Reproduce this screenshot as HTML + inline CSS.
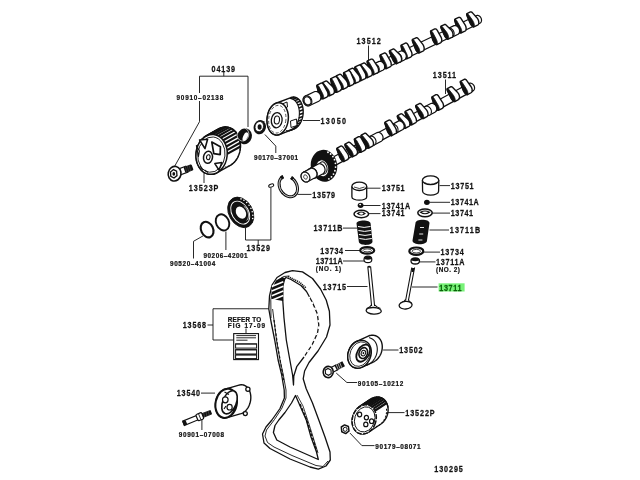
<!DOCTYPE html>
<html><head><meta charset="utf-8"><style>
html,body{margin:0;padding:0;background:#fff;width:640px;height:480px;overflow:hidden}
svg{position:absolute;left:0;top:0}
text{font-family:"Liberation Sans",sans-serif;font-weight:bold;fill:#111;stroke:#111;stroke-width:0.25px}
</style></head><body>
<svg width="640" height="480" viewBox="0 0 640 480">
<rect x="438.6" y="283.3" width="26" height="8.2" fill="#78f278"/>
<path d="M368.50,45.50 L368.50,66.00" fill="none" stroke="#111" stroke-width="0.9"/>
<path d="M445.50,79.50 L445.50,94.00" fill="none" stroke="#111" stroke-width="0.9"/>
<path d="M223.80,71.00 L223.80,76.20" fill="none" stroke="#111" stroke-width="0.9"/>
<path d="M199.50,76.20 L248.00,76.20" fill="none" stroke="#111" stroke-width="0.9"/>
<path d="M199.50,76.20 L199.50,93.00" fill="none" stroke="#111" stroke-width="0.9"/>
<path d="M199.50,101.00 L199.50,121.70 L174.50,166.50" fill="none" stroke="#111" stroke-width="0.9"/>
<path d="M248.00,76.20 L248.00,127.00" fill="none" stroke="#111" stroke-width="0.9"/>
<path d="M303.00,120.50 L320.00,120.50" fill="none" stroke="#111" stroke-width="0.9"/>
<path d="M264.90,134.50 L275.80,146.10 L275.80,153.00" fill="none" stroke="#111" stroke-width="0.9"/>
<path d="M204.00,169.00 L204.00,183.00" fill="none" stroke="#111" stroke-width="0.9"/>
<path d="M297.50,194.40 L311.50,194.40" fill="none" stroke="#111" stroke-width="0.9"/>
<path d="M245.50,228.00 L245.50,240.00 L270.90,240.00 L270.90,188.00" fill="none" stroke="#111" stroke-width="0.9"/>
<path d="M258.20,240.00 L258.20,245.00" fill="none" stroke="#111" stroke-width="0.9"/>
<path d="M225.90,231.50 L225.90,250.00" fill="none" stroke="#111" stroke-width="0.9"/>
<path d="M203.40,235.70 L193.50,241.30 L193.50,258.50" fill="none" stroke="#111" stroke-width="0.9"/>
<path d="M207.50,325.00 L213.00,325.00" fill="none" stroke="#111" stroke-width="0.9"/>
<path d="M270.00,308.75 L213.00,308.75 L213.00,340.00 L233.75,340.00" fill="none" stroke="#111" stroke-width="0.9"/>
<path d="M246.00,328.50 L246.00,333.25" fill="none" stroke="#111" stroke-width="0.9"/>
<path d="M201.00,393.10 L215.00,393.10" fill="none" stroke="#111" stroke-width="0.9"/>
<path d="M201.90,418.75 L201.90,430.00" fill="none" stroke="#111" stroke-width="0.9"/>
<path d="M347.00,286.50 L367.50,286.50" fill="none" stroke="#111" stroke-width="0.9"/>
<path d="M343.00,261.00 L364.00,261.00" fill="none" stroke="#111" stroke-width="0.9"/>
<path d="M345.00,250.50 L360.00,250.50" fill="none" stroke="#111" stroke-width="0.9"/>
<path d="M343.00,228.10 L357.00,228.10" fill="none" stroke="#111" stroke-width="0.9"/>
<path d="M367.00,188.20 L380.50,188.20" fill="none" stroke="#111" stroke-width="0.9"/>
<path d="M363.00,205.50 L380.50,205.50" fill="none" stroke="#111" stroke-width="0.9"/>
<path d="M368.00,213.60 L380.50,213.60" fill="none" stroke="#111" stroke-width="0.9"/>
<path d="M439.50,185.60 L450.00,185.60" fill="none" stroke="#111" stroke-width="0.9"/>
<path d="M429.50,202.30 L450.00,202.30" fill="none" stroke="#111" stroke-width="0.9"/>
<path d="M432.00,213.10 L450.00,213.10" fill="none" stroke="#111" stroke-width="0.9"/>
<path d="M429.50,230.00 L449.00,230.00" fill="none" stroke="#111" stroke-width="0.9"/>
<path d="M423.50,252.10 L440.00,252.10" fill="none" stroke="#111" stroke-width="0.9"/>
<path d="M419.50,261.90 L435.50,261.90" fill="none" stroke="#111" stroke-width="0.9"/>
<path d="M411.90,287.00 L437.50,287.00" fill="none" stroke="#111" stroke-width="0.9"/>
<path d="M383.10,350.00 L398.50,350.00" fill="none" stroke="#111" stroke-width="0.9"/>
<path d="M336.25,373.10 L346.90,382.50 L357.00,382.50" fill="none" stroke="#111" stroke-width="0.9"/>
<path d="M388.00,412.60 L404.50,412.60" fill="none" stroke="#111" stroke-width="0.9"/>
<path d="M350.00,433.10 L361.90,445.60 L374.50,445.60" fill="none" stroke="#111" stroke-width="0.9"/>
<path d="M303.98,100.37 L303.98,99.74 L304.08,99.14 L304.25,98.58 L304.51,98.08 L304.84,97.64 L305.24,97.28 L305.69,97.01 L476.19,15.71 L476.69,15.53 L477.22,15.45 L477.77,15.47 L478.32,15.58 L478.87,15.80 L479.39,16.10 L479.88,16.49 L480.33,16.95 L480.71,17.48 L481.03,18.05 L481.28,18.66 L481.44,19.30 L481.52,19.93 L481.52,20.56 L481.42,21.16 L481.25,21.72 L480.99,22.22 L480.66,22.66 L480.26,23.02 L479.81,23.29 L309.31,104.59 L308.81,104.77 L308.28,104.85 L307.73,104.83 L307.18,104.72 L306.63,104.50 L306.11,104.20 L305.62,103.81 L305.17,103.35 L304.79,102.82 L304.47,102.25 L304.22,101.64 L304.06,101.00 Z" fill="#fff" stroke="#111" stroke-width="1.2"/>
<path d="M466.72,14.35 L466.73,14.12 L466.76,13.92 L466.83,13.76 L466.91,13.64 L467.02,13.56 L470.35,11.97 L470.56,11.90 L470.79,11.87 L471.02,11.89 L471.27,11.95 L471.52,12.05 L471.78,12.20 L472.03,12.39 L472.27,12.61 L476.63,17.44 L477.03,17.88 L477.41,18.38 L477.75,18.91 L478.04,19.48 L478.30,20.07 L478.50,20.67 L478.65,21.27 L478.74,21.86 L478.78,22.43 L478.76,22.98 L478.68,23.48 L478.54,23.94 L478.35,24.35 L478.11,24.69 L477.83,24.96 L477.50,25.17 L473.89,26.89 L473.66,26.95 L473.40,26.93 L473.12,26.84 L472.81,26.68 L472.48,26.44 L472.15,26.13 L471.80,25.76 L471.46,25.34 L471.12,24.86 L470.79,24.34 L470.48,23.80 L470.19,23.23 L469.93,22.64 L467.17,16.19 L467.03,15.85 L466.92,15.52 L466.83,15.20 L466.77,14.89 L466.73,14.61 Z" fill="#fff" stroke="#111" stroke-width="1.4" stroke-linejoin="round"/>
<path d="M470.19,23.23 L470.48,23.80 L470.79,24.34 L471.12,24.86 L471.46,25.34 L471.80,25.76 L472.15,26.13 L472.48,26.44 L472.81,26.68 L473.12,26.84 L473.40,26.93 L473.66,26.95 L473.89,26.89 L474.08,26.75 L474.23,26.54 L474.34,26.26 L474.40,25.92 L474.42,25.51 L474.40,25.06 L474.33,24.56 L474.21,24.02 L474.06,23.46 L473.86,22.88 L473.63,22.29 L473.37,21.71 L473.08,21.14 L472.77,20.59 L472.44,20.07 L472.10,19.60 L468.41,14.45 L468.21,14.20 L468.02,13.99 L467.82,13.82 L467.64,13.68 L467.46,13.59 L467.30,13.53 L467.15,13.52 L467.02,13.56 L466.91,13.64 L466.83,13.76 L466.76,13.92 L466.73,14.12 L466.72,14.35 L466.73,14.61 L466.77,14.89 L466.83,15.20 L466.92,15.52 L467.03,15.85 L467.17,16.19 L469.93,22.64 Z" fill="#111" stroke="#111" stroke-width="0.8"/>
<path d="M454.67,20.00 L454.68,19.77 L454.72,19.57 L454.78,19.41 L454.87,19.29 L454.97,19.21 L458.72,17.42 L458.93,17.35 L459.16,17.32 L459.40,17.34 L459.64,17.40 L459.90,17.50 L460.15,17.65 L460.40,17.84 L460.64,18.06 L460.87,18.31 L461.08,18.60 L464.77,24.40 L465.11,24.94 L465.41,25.50 L465.66,26.09 L465.86,26.69 L466.01,27.29 L466.11,27.89 L466.14,28.46 L466.12,29.00 L466.04,29.51 L465.91,29.97 L465.72,30.37 L465.48,30.71 L465.19,30.99 L464.86,31.19 L461.25,32.91 L461.03,32.98 L460.77,32.96 L460.48,32.87 L460.17,32.70 L459.85,32.46 L459.51,32.16 L459.16,31.79 L458.82,31.36 L458.48,30.89 L458.15,30.37 L457.84,29.82 L457.55,29.25 L457.29,28.67 L457.06,28.08 L456.86,27.50 L454.88,21.17 L454.79,20.85 L454.72,20.54 L454.68,20.26 Z" fill="#fff" stroke="#111" stroke-width="1.4" stroke-linejoin="round"/>
<path d="M457.55,29.25 L457.84,29.82 L458.15,30.37 L458.48,30.89 L458.82,31.36 L459.16,31.79 L459.51,32.16 L459.85,32.46 L460.17,32.70 L460.48,32.87 L460.77,32.96 L461.03,32.98 L461.25,32.91 L461.44,32.78 L461.59,32.57 L461.70,32.29 L461.77,31.94 L461.79,31.54 L461.76,31.08 L461.69,30.58 L461.58,30.05 L461.42,29.48 L461.23,28.90 L461.00,28.32 L460.73,27.73 L460.45,27.16 L460.13,26.61 L456.75,20.66 L456.56,20.37 L456.36,20.10 L456.17,19.85 L455.97,19.64 L455.78,19.47 L455.59,19.33 L455.41,19.24 L455.25,19.18 L455.10,19.18 L454.97,19.21 L454.87,19.29 L454.78,19.41 L454.72,19.57 L454.68,19.77 L454.67,20.00 L454.68,20.26 L454.72,20.54 L454.79,20.85 L454.88,21.17 L456.86,27.50 L457.06,28.08 L457.29,28.67 Z" fill="#111" stroke="#111" stroke-width="0.8"/>
<path d="M446.09,32.30 L446.10,31.59 L446.20,30.90 L446.41,30.26 L446.70,29.69 L447.08,29.19 L447.53,28.78 L448.05,28.46 L453.47,25.88 L454.03,25.68 L454.64,25.58 L455.27,25.60 L455.90,25.74 L456.52,25.98 L457.12,26.33 L457.68,26.77 L458.19,27.30 L458.63,27.90 L459.00,28.56 L459.28,29.26 L459.47,29.98 L459.56,30.71 L459.55,31.42 L459.44,32.11 L459.24,32.75 L458.95,33.32 L458.57,33.82 L458.11,34.23 L457.60,34.55 L452.18,37.13 L451.61,37.33 L451.01,37.43 L450.38,37.41 L449.75,37.27 L449.13,37.03 L448.53,36.68 L447.97,36.24 L447.46,35.71 L447.02,35.11 L446.65,34.45 L446.37,33.75 L446.18,33.03 Z" fill="#fff" stroke="#111" stroke-width="1.2"/>
<path d="M453.58,31.14 L453.22,30.49 L452.77,29.89 L452.27,29.36 L451.71,28.91 L451.11,28.56 L450.48,28.32 L449.85,28.19 L449.22,28.16 L448.62,28.26 L448.05,28.46 L447.53,28.78 L447.08,29.19 L446.70,29.69 L446.41,30.26 L446.20,30.90 L446.10,31.59 L446.09,32.30 L446.18,33.03 L446.37,33.75 L446.65,34.45 L447.02,35.11 L447.46,35.71 L447.97,36.24 L448.53,36.68 L449.13,37.03 L449.75,37.27 L450.38,37.41 L451.01,37.43 L451.61,37.33 L452.18,37.13 L452.70,36.82 L453.15,36.41 L453.53,35.91 L453.83,35.33 L454.03,34.69 L454.13,34.01 L454.14,33.29 L454.05,32.56 L453.86,31.84 Z" fill="#fff" stroke="#111" stroke-width="1.1"/>
<path d="M440.85,26.84 L440.86,26.61 L440.89,26.41 L440.96,26.25 L441.04,26.13 L441.15,26.05 L444.35,24.53 L444.55,24.45 L444.78,24.43 L445.02,24.44 L445.27,24.50 L445.52,24.61 L445.77,24.76 L446.02,24.94 L446.26,25.16 L450.91,29.70 L451.31,30.15 L451.68,30.64 L452.02,31.18 L452.32,31.75 L452.57,32.33 L452.77,32.93 L452.92,33.53 L453.02,34.13 L453.05,34.70 L453.03,35.24 L452.95,35.75 L452.82,36.21 L452.63,36.61 L452.39,36.96 L452.10,37.23 L451.77,37.43 L448.16,39.16 L447.94,39.22 L447.68,39.20 L447.39,39.11 L447.08,38.94 L446.76,38.70 L446.42,38.40 L446.08,38.03 L445.73,37.60 L445.39,37.13 L445.06,36.61 L444.75,36.06 L444.46,35.49 L441.45,29.01 L441.30,28.68 L441.16,28.34 L441.05,28.01 L440.97,27.69 L440.90,27.38 L440.86,27.10 Z" fill="#fff" stroke="#111" stroke-width="1.4" stroke-linejoin="round"/>
<path d="M444.46,35.49 L444.75,36.06 L445.06,36.61 L445.39,37.13 L445.73,37.60 L446.08,38.03 L446.42,38.40 L446.76,38.70 L447.08,38.94 L447.39,39.11 L447.68,39.20 L447.94,39.22 L448.16,39.16 L448.35,39.02 L448.50,38.81 L448.61,38.53 L448.68,38.18 L448.70,37.78 L448.67,37.32 L448.60,36.82 L448.49,36.29 L448.33,35.72 L448.14,35.14 L447.91,34.56 L447.65,33.97 L447.36,33.40 L447.05,32.85 L446.72,32.34 L446.38,31.86 L442.54,26.94 L442.34,26.69 L442.15,26.48 L441.95,26.31 L441.77,26.17 L441.59,26.08 L441.43,26.02 L441.28,26.02 L441.15,26.05 L441.04,26.13 L440.96,26.25 L440.89,26.41 L440.86,26.61 L440.85,26.84 L440.86,27.10 L440.90,27.38 L440.97,27.69 L441.05,28.01 L441.16,28.34 L441.30,28.68 L441.45,29.01 Z" fill="#111" stroke="#111" stroke-width="0.8"/>
<path d="M430.54,31.59 L430.55,31.36 L430.59,31.17 L430.65,31.01 L430.74,30.89 L430.85,30.81 L434.74,28.95 L434.94,28.88 L435.17,28.85 L435.41,28.87 L435.66,28.93 L435.91,29.04 L436.16,29.18 L436.41,29.37 L436.65,29.59 L436.88,29.85 L437.09,30.13 L437.29,30.43 L440.74,36.56 L441.04,37.13 L441.29,37.71 L441.49,38.31 L441.64,38.91 L441.73,39.51 L441.77,40.08 L441.75,40.62 L441.67,41.13 L441.54,41.59 L441.35,41.99 L441.11,42.34 L440.82,42.61 L440.49,42.81 L436.88,44.54 L436.65,44.60 L436.40,44.58 L436.11,44.49 L435.80,44.32 L435.48,44.08 L435.14,43.78 L434.79,43.41 L434.45,42.98 L434.11,42.51 L433.78,41.99 L433.47,41.44 L433.18,40.87 L432.92,40.29 L432.69,39.70 L432.49,39.12 L432.34,38.56 L430.66,32.45 L430.60,32.14 L430.56,31.86 Z" fill="#fff" stroke="#111" stroke-width="1.4" stroke-linejoin="round"/>
<path d="M433.18,40.87 L433.47,41.44 L433.78,41.99 L434.11,42.51 L434.45,42.98 L434.79,43.41 L435.14,43.78 L435.48,44.08 L435.80,44.32 L436.11,44.49 L436.40,44.58 L436.65,44.60 L436.88,44.54 L437.07,44.40 L437.22,44.19 L437.33,43.91 L437.39,43.56 L437.41,43.16 L437.39,42.70 L437.32,42.20 L437.21,41.67 L437.05,41.10 L436.86,40.52 L436.63,39.94 L436.36,39.35 L436.07,38.78 L432.80,32.58 L432.62,32.26 L432.43,31.97 L432.24,31.70 L432.04,31.45 L431.84,31.24 L431.65,31.07 L431.46,30.93 L431.29,30.83 L431.12,30.78 L430.98,30.77 L430.85,30.81 L430.74,30.89 L430.65,31.01 L430.59,31.17 L430.55,31.36 L430.54,31.59 L430.56,31.86 L430.60,32.14 L430.66,32.45 L432.34,38.56 L432.49,39.12 L432.69,39.70 L432.92,40.29 Z" fill="#111" stroke="#111" stroke-width="0.8"/>
<path d="M412.28,40.21 L412.29,39.98 L412.33,39.78 L412.39,39.62 L412.47,39.50 L412.58,39.42 L416.05,37.77 L416.26,37.70 L416.49,37.67 L416.73,37.68 L416.97,37.75 L417.23,37.85 L417.48,38.00 L417.73,38.18 L417.97,38.41 L418.20,38.66 L422.43,43.92 L422.80,44.42 L423.14,44.95 L423.43,45.52 L423.69,46.11 L423.89,46.71 L424.04,47.31 L424.13,47.90 L424.17,48.47 L424.15,49.02 L424.07,49.52 L423.93,49.98 L423.74,50.39 L423.50,50.73 L423.22,51.00 L422.89,51.21 L419.28,52.93 L419.05,52.99 L418.80,52.97 L418.51,52.88 L418.20,52.72 L417.87,52.48 L417.54,52.17 L417.19,51.80 L416.85,51.37 L416.51,50.90 L416.18,50.38 L415.87,49.84 L415.58,49.26 L415.32,48.68 L415.09,48.09 L412.60,41.72 L412.49,41.39 L412.40,41.06 L412.33,40.76 L412.29,40.47 Z" fill="#fff" stroke="#111" stroke-width="1.4" stroke-linejoin="round"/>
<path d="M415.58,49.26 L415.87,49.84 L416.18,50.38 L416.51,50.90 L416.85,51.37 L417.19,51.80 L417.54,52.17 L417.87,52.48 L418.20,52.72 L418.51,52.88 L418.80,52.97 L419.05,52.99 L419.28,52.93 L419.47,52.79 L419.62,52.58 L419.73,52.30 L419.79,51.96 L419.81,51.55 L419.79,51.10 L419.72,50.60 L419.60,50.06 L419.45,49.50 L419.25,48.92 L419.02,48.33 L418.76,47.75 L418.47,47.18 L418.16,46.63 L417.83,46.11 L414.17,40.58 L413.97,40.31 L413.78,40.07 L413.58,39.86 L413.39,39.68 L413.20,39.55 L413.02,39.45 L412.86,39.40 L412.71,39.39 L412.58,39.42 L412.47,39.50 L412.39,39.62 L412.33,39.78 L412.29,39.98 L412.28,40.21 L412.29,40.47 L412.33,40.76 L412.40,41.06 L412.49,41.39 L412.60,41.72 L415.09,48.09 L415.32,48.68 Z" fill="#111" stroke="#111" stroke-width="0.8"/>
<path d="M401.02,45.83 L401.03,45.60 L401.07,45.40 L401.13,45.24 L401.22,45.12 L401.33,45.04 L405.35,43.12 L405.56,43.05 L405.78,43.02 L406.02,43.04 L406.27,43.10 L406.52,43.20 L406.78,43.35 L407.03,43.54 L407.27,43.76 L407.50,44.01 L407.71,44.30 L407.90,44.60 L408.07,44.92 L411.25,51.33 L411.50,51.92 L411.70,52.52 L411.85,53.12 L411.95,53.71 L411.98,54.28 L411.96,54.83 L411.88,55.33 L411.75,55.79 L411.56,56.20 L411.32,56.54 L411.03,56.81 L410.70,57.02 L407.09,58.74 L406.87,58.80 L406.61,58.78 L406.32,58.69 L406.01,58.53 L405.69,58.29 L405.35,57.98 L405.01,57.61 L404.66,57.19 L404.32,56.71 L403.99,56.19 L403.68,55.65 L403.39,55.08 L403.13,54.49 L402.90,53.90 L402.71,53.33 L402.55,52.76 L401.14,46.68 L401.08,46.37 L401.03,46.09 Z" fill="#fff" stroke="#111" stroke-width="1.4" stroke-linejoin="round"/>
<path d="M403.39,55.08 L403.68,55.65 L403.99,56.19 L404.32,56.71 L404.66,57.19 L405.01,57.61 L405.35,57.98 L405.69,58.29 L406.01,58.53 L406.32,58.69 L406.61,58.78 L406.87,58.80 L407.09,58.74 L407.28,58.60 L407.43,58.39 L407.54,58.11 L407.61,57.77 L407.63,57.36 L407.60,56.91 L407.53,56.41 L407.42,55.87 L407.26,55.31 L407.07,54.73 L406.84,54.14 L406.58,53.56 L403.44,47.13 L403.28,46.81 L403.10,46.49 L402.91,46.20 L402.72,45.93 L402.52,45.68 L402.32,45.47 L402.13,45.30 L401.94,45.16 L401.77,45.07 L401.60,45.01 L401.45,45.01 L401.33,45.04 L401.22,45.12 L401.13,45.24 L401.07,45.40 L401.03,45.60 L401.02,45.83 L401.03,46.09 L401.08,46.37 L401.14,46.68 L402.55,52.76 L402.71,53.33 L402.90,53.90 L403.13,54.49 Z" fill="#111" stroke="#111" stroke-width="0.8"/>
<path d="M393.74,57.27 L393.75,56.55 L393.85,55.86 L394.05,55.23 L394.35,54.65 L394.73,54.15 L395.18,53.74 L395.70,53.43 L400.21,51.27 L400.78,51.07 L401.38,50.98 L402.01,51.00 L402.64,51.13 L403.27,51.38 L403.87,51.72 L404.43,52.17 L404.93,52.70 L405.38,53.30 L405.74,53.95 L406.02,54.65 L406.21,55.37 L406.30,56.10 L406.30,56.82 L406.19,57.50 L405.99,58.14 L405.69,58.72 L405.31,59.22 L404.86,59.63 L404.34,59.94 L399.83,62.09 L399.26,62.30 L398.66,62.39 L398.03,62.37 L397.40,62.24 L396.77,61.99 L396.17,61.64 L395.61,61.20 L395.11,60.67 L394.66,60.07 L394.30,59.41 L394.02,58.71 L393.83,57.99 Z" fill="#fff" stroke="#111" stroke-width="1.2"/>
<path d="M401.23,56.11 L400.86,55.45 L400.42,54.85 L399.91,54.32 L399.35,53.88 L398.75,53.53 L398.13,53.28 L397.50,53.15 L396.87,53.13 L396.27,53.22 L395.70,53.43 L395.18,53.74 L394.73,54.15 L394.35,54.65 L394.05,55.23 L393.85,55.86 L393.75,56.55 L393.74,57.27 L393.83,57.99 L394.02,58.71 L394.30,59.41 L394.66,60.07 L395.11,60.67 L395.61,61.20 L396.17,61.64 L396.77,61.99 L397.40,62.24 L398.03,62.37 L398.66,62.39 L399.26,62.30 L399.83,62.09 L400.35,61.78 L400.80,61.37 L401.18,60.87 L401.47,60.29 L401.68,59.65 L401.78,58.97 L401.79,58.25 L401.70,57.53 L401.51,56.80 Z" fill="#fff" stroke="#111" stroke-width="1.1"/>
<path d="M389.40,51.37 L389.41,51.14 L389.44,50.94 L389.51,50.78 L389.59,50.66 L389.70,50.58 L392.90,49.06 L393.10,48.99 L393.33,48.96 L393.57,48.98 L393.82,49.04 L394.07,49.14 L394.32,49.29 L394.57,49.47 L394.81,49.70 L399.46,54.24 L399.86,54.68 L400.23,55.18 L400.57,55.71 L400.87,56.28 L401.12,56.87 L401.32,57.47 L401.47,58.07 L401.57,58.66 L401.60,59.23 L401.58,59.78 L401.50,60.28 L401.37,60.74 L401.18,61.15 L400.94,61.49 L400.65,61.76 L400.32,61.97 L396.71,63.69 L396.49,63.75 L396.23,63.73 L395.94,63.64 L395.63,63.48 L395.31,63.24 L394.97,62.93 L394.62,62.56 L394.28,62.13 L393.94,61.66 L393.61,61.14 L393.30,60.60 L393.01,60.03 L390.00,53.54 L389.85,53.21 L389.71,52.88 L389.60,52.54 L389.51,52.22 L389.45,51.92 L389.41,51.63 Z" fill="#fff" stroke="#111" stroke-width="1.4" stroke-linejoin="round"/>
<path d="M393.01,60.03 L393.30,60.60 L393.61,61.14 L393.94,61.66 L394.28,62.13 L394.62,62.56 L394.97,62.93 L395.31,63.24 L395.63,63.48 L395.94,63.64 L396.23,63.73 L396.49,63.75 L396.71,63.69 L396.90,63.55 L397.05,63.34 L397.16,63.06 L397.23,62.72 L397.25,62.31 L397.22,61.86 L397.15,61.36 L397.04,60.82 L396.88,60.26 L396.69,59.68 L396.46,59.09 L396.20,58.51 L395.91,57.94 L395.60,57.39 L395.27,56.87 L394.93,56.40 L391.09,51.47 L390.89,51.23 L390.70,51.02 L390.50,50.84 L390.32,50.70 L390.14,50.61 L389.98,50.56 L389.83,50.55 L389.70,50.58 L389.59,50.66 L389.51,50.78 L389.44,50.94 L389.41,51.14 L389.40,51.37 L389.41,51.63 L389.45,51.92 L389.51,52.22 L389.60,52.54 L389.71,52.88 L389.85,53.21 L390.00,53.54 Z" fill="#111" stroke="#111" stroke-width="0.8"/>
<path d="M379.99,55.70 L380.01,55.47 L380.04,55.27 L380.11,55.11 L380.19,54.99 L380.30,54.91 L384.19,53.06 L384.40,52.98 L384.62,52.96 L384.86,52.97 L385.11,53.03 L385.36,53.14 L385.61,53.29 L385.86,53.47 L386.10,53.69 L386.33,53.95 L386.55,54.23 L386.74,54.54 L390.19,60.66 L390.49,61.23 L390.74,61.82 L390.94,62.42 L391.09,63.02 L391.19,63.61 L391.22,64.18 L391.20,64.73 L391.12,65.23 L390.99,65.69 L390.80,66.10 L390.56,66.44 L390.27,66.71 L389.94,66.92 L386.33,68.64 L386.11,68.70 L385.85,68.68 L385.56,68.59 L385.25,68.43 L384.93,68.19 L384.59,67.88 L384.24,67.51 L383.90,67.08 L383.56,66.61 L383.23,66.09 L382.92,65.55 L382.63,64.97 L382.37,64.39 L382.14,63.80 L381.95,63.22 L381.79,62.66 L380.11,56.55 L380.05,56.24 L380.01,55.96 Z" fill="#fff" stroke="#111" stroke-width="1.4" stroke-linejoin="round"/>
<path d="M382.63,64.97 L382.92,65.55 L383.23,66.09 L383.56,66.61 L383.90,67.08 L384.24,67.51 L384.59,67.88 L384.93,68.19 L385.25,68.43 L385.56,68.59 L385.85,68.68 L386.11,68.70 L386.33,68.64 L386.52,68.50 L386.67,68.29 L386.78,68.01 L386.85,67.67 L386.87,67.26 L386.84,66.81 L386.77,66.31 L386.66,65.77 L386.50,65.21 L386.31,64.63 L386.08,64.04 L385.82,63.46 L385.53,62.89 L382.25,56.68 L382.07,56.37 L381.88,56.07 L381.69,55.80 L381.49,55.56 L381.30,55.34 L381.10,55.17 L380.92,55.03 L380.74,54.94 L380.58,54.88 L380.43,54.88 L380.30,54.91 L380.19,54.99 L380.11,55.11 L380.04,55.27 L380.01,55.47 L379.99,55.70 L380.01,55.96 L380.05,56.24 L380.11,56.55 L381.79,62.66 L381.95,63.22 L382.14,63.80 L382.37,64.39 Z" fill="#111" stroke="#111" stroke-width="0.8"/>
<path d="M371.17,68.03 L371.18,67.31 L371.29,66.62 L371.49,65.99 L371.78,65.41 L372.16,64.91 L372.61,64.50 L373.13,64.19 L378.55,61.60 L379.12,61.40 L379.72,61.31 L380.35,61.33 L380.98,61.46 L381.60,61.70 L382.20,62.05 L382.76,62.50 L383.27,63.03 L383.71,63.63 L384.08,64.28 L384.36,64.98 L384.55,65.70 L384.64,66.43 L384.63,67.15 L384.53,67.83 L384.32,68.47 L384.03,69.05 L383.65,69.55 L383.20,69.96 L382.68,70.27 L377.26,72.85 L376.70,73.06 L376.09,73.15 L375.46,73.13 L374.83,73.00 L374.21,72.75 L373.61,72.40 L373.05,71.96 L372.54,71.43 L372.10,70.83 L371.73,70.17 L371.45,69.47 L371.26,68.75 Z" fill="#fff" stroke="#111" stroke-width="1.2"/>
<path d="M378.66,66.87 L378.30,66.21 L377.86,65.61 L377.35,65.08 L376.79,64.64 L376.19,64.29 L375.56,64.04 L374.93,63.91 L374.30,63.89 L373.70,63.98 L373.13,64.19 L372.61,64.50 L372.16,64.91 L371.78,65.41 L371.49,65.99 L371.29,66.62 L371.18,67.31 L371.17,68.03 L371.26,68.75 L371.45,69.47 L371.73,70.17 L372.10,70.83 L372.54,71.43 L373.05,71.96 L373.61,72.40 L374.21,72.75 L374.83,73.00 L375.46,73.13 L376.09,73.15 L376.70,73.06 L377.26,72.85 L377.78,72.54 L378.23,72.13 L378.61,71.63 L378.91,71.05 L379.11,70.41 L379.22,69.73 L379.22,69.01 L379.13,68.29 L378.94,67.56 Z" fill="#fff" stroke="#111" stroke-width="1.1"/>
<path d="M367.11,61.75 L367.13,61.52 L367.16,61.32 L367.22,61.16 L367.31,61.04 L367.42,60.96 L371.17,59.17 L371.38,59.10 L371.60,59.07 L371.84,59.09 L372.09,59.15 L372.34,59.25 L372.59,59.40 L372.84,59.59 L373.08,59.81 L373.31,60.06 L373.53,60.35 L377.22,66.15 L377.55,66.69 L377.85,67.25 L378.10,67.84 L378.31,68.44 L378.46,69.04 L378.55,69.64 L378.59,70.21 L378.57,70.75 L378.49,71.26 L378.35,71.72 L378.16,72.12 L377.92,72.46 L377.63,72.74 L377.31,72.94 L373.70,74.66 L373.47,74.73 L373.21,74.71 L372.93,74.62 L372.62,74.45 L372.29,74.21 L371.95,73.91 L371.61,73.54 L371.26,73.11 L370.92,72.64 L370.59,72.12 L370.28,71.57 L369.99,71.00 L369.73,70.42 L369.50,69.83 L369.31,69.25 L367.32,62.92 L367.23,62.60 L367.17,62.29 L367.13,62.01 Z" fill="#fff" stroke="#111" stroke-width="1.4" stroke-linejoin="round"/>
<path d="M369.99,71.00 L370.28,71.57 L370.59,72.12 L370.92,72.64 L371.26,73.11 L371.61,73.54 L371.95,73.91 L372.29,74.21 L372.62,74.45 L372.93,74.62 L373.21,74.71 L373.47,74.73 L373.70,74.66 L373.89,74.53 L374.04,74.32 L374.14,74.04 L374.21,73.69 L374.23,73.29 L374.20,72.83 L374.13,72.33 L374.02,71.80 L373.87,71.23 L373.67,70.65 L373.44,70.07 L373.18,69.48 L372.89,68.91 L372.58,68.36 L369.19,62.41 L369.00,62.12 L368.81,61.85 L368.61,61.60 L368.42,61.39 L368.22,61.22 L368.04,61.08 L367.86,60.99 L367.70,60.93 L367.55,60.92 L367.42,60.96 L367.31,61.04 L367.22,61.16 L367.16,61.32 L367.13,61.52 L367.11,61.75 L367.13,62.01 L367.17,62.29 L367.23,62.60 L367.32,62.92 L369.31,69.25 L369.50,69.83 L369.73,70.42 Z" fill="#111" stroke="#111" stroke-width="0.8"/>
<path d="M360.06,65.36 L360.07,65.13 L360.11,64.93 L360.17,64.77 L360.26,64.65 L360.36,64.57 L363.56,63.05 L363.77,62.97 L363.99,62.95 L364.23,62.96 L364.48,63.02 L364.73,63.13 L364.99,63.28 L365.23,63.46 L365.48,63.69 L370.12,68.23 L370.52,68.67 L370.90,69.17 L371.23,69.70 L371.53,70.27 L371.79,70.86 L371.99,71.45 L372.14,72.06 L372.23,72.65 L372.27,73.22 L372.25,73.77 L372.17,74.27 L372.03,74.73 L371.84,75.13 L371.60,75.48 L371.32,75.75 L370.99,75.96 L367.38,77.68 L367.15,77.74 L366.89,77.72 L366.61,77.63 L366.30,77.46 L365.97,77.23 L365.63,76.92 L365.29,76.55 L364.94,76.12 L364.60,75.65 L364.28,75.13 L363.97,74.58 L363.68,74.01 L360.66,67.53 L360.51,67.20 L360.38,66.86 L360.27,66.53 L360.18,66.21 L360.11,65.90 L360.07,65.62 Z" fill="#fff" stroke="#111" stroke-width="1.4" stroke-linejoin="round"/>
<path d="M363.68,74.01 L363.97,74.58 L364.28,75.13 L364.60,75.65 L364.94,76.12 L365.29,76.55 L365.63,76.92 L365.97,77.23 L366.30,77.46 L366.61,77.63 L366.89,77.72 L367.15,77.74 L367.38,77.68 L367.57,77.54 L367.72,77.33 L367.83,77.05 L367.89,76.70 L367.91,76.30 L367.89,75.84 L367.82,75.34 L367.70,74.81 L367.55,74.25 L367.35,73.67 L367.12,73.08 L366.86,72.49 L366.57,71.92 L366.26,71.38 L365.93,70.86 L365.59,70.39 L361.76,65.46 L361.56,65.22 L361.36,65.00 L361.17,64.83 L360.98,64.69 L360.80,64.60 L360.64,64.55 L360.49,64.54 L360.36,64.57 L360.26,64.65 L360.17,64.77 L360.11,64.93 L360.07,65.13 L360.06,65.36 L360.07,65.62 L360.11,65.90 L360.18,66.21 L360.27,66.53 L360.38,66.86 L360.51,67.20 L360.66,67.53 Z" fill="#111" stroke="#111" stroke-width="0.8"/>
<path d="M354.72,67.75 L354.73,67.52 L354.77,67.32 L354.83,67.16 L354.92,67.04 L355.03,66.96 L358.91,65.11 L359.12,65.04 L359.35,65.01 L359.59,65.02 L359.83,65.09 L360.09,65.19 L360.34,65.34 L360.59,65.52 L360.83,65.75 L361.06,66.00 L361.27,66.28 L361.47,66.59 L364.92,72.71 L365.21,73.28 L365.47,73.87 L365.67,74.47 L365.82,75.07 L365.91,75.66 L365.95,76.23 L365.93,76.78 L365.85,77.28 L365.71,77.74 L365.52,78.15 L365.28,78.49 L365.00,78.77 L364.67,78.97 L361.06,80.69 L360.83,80.75 L360.58,80.74 L360.29,80.64 L359.98,80.48 L359.65,80.24 L359.32,79.93 L358.97,79.56 L358.63,79.14 L358.29,78.66 L357.96,78.14 L357.65,77.60 L357.36,77.03 L357.10,76.44 L356.87,75.86 L356.67,75.28 L356.52,74.71 L354.84,68.60 L354.78,68.30 L354.74,68.01 Z" fill="#fff" stroke="#111" stroke-width="1.4" stroke-linejoin="round"/>
<path d="M357.36,77.03 L357.65,77.60 L357.96,78.14 L358.29,78.66 L358.63,79.14 L358.97,79.56 L359.32,79.93 L359.65,80.24 L359.98,80.48 L360.29,80.64 L360.58,80.74 L360.83,80.75 L361.06,80.69 L361.25,80.55 L361.40,80.34 L361.51,80.06 L361.57,79.72 L361.59,79.31 L361.57,78.86 L361.50,78.36 L361.38,77.82 L361.23,77.26 L361.03,76.68 L360.80,76.09 L360.54,75.51 L360.25,74.94 L356.98,68.73 L356.80,68.42 L356.61,68.12 L356.42,67.85 L356.22,67.61 L356.02,67.40 L355.83,67.22 L355.64,67.08 L355.47,66.99 L355.30,66.94 L355.16,66.93 L355.03,66.96 L354.92,67.04 L354.83,67.16 L354.77,67.32 L354.73,67.52 L354.72,67.75 L354.74,68.01 L354.78,68.30 L354.84,68.60 L356.52,74.71 L356.67,75.28 L356.87,75.86 L357.10,76.44 Z" fill="#111" stroke="#111" stroke-width="0.8"/>
<path d="M348.19,70.77 L348.20,70.54 L348.24,70.34 L348.30,70.18 L348.39,70.06 L348.50,69.98 L351.97,68.33 L352.17,68.26 L352.40,68.23 L352.64,68.24 L352.89,68.31 L353.14,68.41 L353.39,68.56 L353.64,68.74 L353.88,68.97 L354.11,69.22 L358.34,74.48 L358.71,74.98 L359.05,75.51 L359.35,76.08 L359.60,76.67 L359.80,77.27 L359.95,77.87 L360.05,78.46 L360.08,79.03 L360.06,79.58 L359.98,80.08 L359.85,80.54 L359.66,80.94 L359.42,81.29 L359.13,81.56 L358.80,81.77 L355.19,83.49 L354.97,83.55 L354.71,83.53 L354.42,83.44 L354.11,83.27 L353.79,83.04 L353.45,82.73 L353.10,82.36 L352.76,81.93 L352.42,81.46 L352.09,80.94 L351.78,80.39 L351.49,79.82 L351.23,79.24 L351.00,78.65 L348.51,72.28 L348.40,71.94 L348.31,71.62 L348.25,71.32 L348.21,71.03 Z" fill="#fff" stroke="#111" stroke-width="1.4" stroke-linejoin="round"/>
<path d="M351.49,79.82 L351.78,80.39 L352.09,80.94 L352.42,81.46 L352.76,81.93 L353.10,82.36 L353.45,82.73 L353.79,83.04 L354.11,83.27 L354.42,83.44 L354.71,83.53 L354.97,83.55 L355.19,83.49 L355.38,83.35 L355.53,83.14 L355.64,82.86 L355.71,82.52 L355.73,82.11 L355.70,81.66 L355.63,81.15 L355.52,80.62 L355.36,80.06 L355.17,79.48 L354.94,78.89 L354.68,78.31 L354.39,77.73 L354.08,77.19 L353.75,76.67 L350.08,71.14 L349.89,70.87 L349.69,70.63 L349.49,70.42 L349.30,70.24 L349.11,70.10 L348.94,70.01 L348.77,69.96 L348.62,69.95 L348.50,69.98 L348.39,70.06 L348.30,70.18 L348.24,70.34 L348.20,70.54 L348.19,70.77 L348.21,71.03 L348.25,71.32 L348.31,71.62 L348.40,71.94 L348.51,72.28 L351.00,78.65 L351.23,79.24 Z" fill="#111" stroke="#111" stroke-width="0.8"/>
<path d="M343.54,73.45 L343.55,73.22 L343.58,73.02 L343.65,72.86 L343.73,72.74 L343.84,72.67 L348.00,70.68 L348.21,70.61 L348.43,70.58 L348.67,70.60 L348.92,70.66 L349.17,70.76 L349.42,70.91 L349.67,71.10 L349.91,71.32 L350.14,71.57 L350.36,71.86 L350.55,72.16 L350.72,72.49 L353.48,78.88 L353.73,79.46 L353.94,80.06 L354.09,80.66 L354.18,81.26 L354.22,81.83 L354.19,82.37 L354.12,82.88 L353.98,83.34 L353.79,83.74 L353.55,84.09 L353.26,84.36 L352.94,84.56 L349.32,86.29 L349.10,86.35 L348.84,86.33 L348.56,86.24 L348.25,86.07 L347.92,85.83 L347.58,85.53 L347.24,85.16 L346.89,84.73 L346.55,84.26 L346.22,83.74 L345.91,83.19 L345.62,82.62 L345.36,82.04 L345.13,81.45 L344.94,80.87 L344.78,80.31 L344.67,79.77 L343.59,74.00 L343.55,73.71 Z" fill="#fff" stroke="#111" stroke-width="1.4" stroke-linejoin="round"/>
<path d="M345.62,82.62 L345.91,83.19 L346.22,83.74 L346.55,84.26 L346.89,84.73 L347.24,85.16 L347.58,85.53 L347.92,85.83 L348.25,86.07 L348.56,86.24 L348.84,86.33 L349.10,86.35 L349.32,86.29 L349.51,86.15 L349.67,85.94 L349.77,85.66 L349.84,85.31 L349.86,84.91 L349.83,84.45 L349.76,83.95 L349.65,83.42 L349.49,82.85 L349.30,82.27 L349.07,81.69 L348.81,81.10 L345.96,74.76 L345.79,74.43 L345.61,74.12 L345.42,73.83 L345.23,73.55 L345.03,73.31 L344.84,73.10 L344.64,72.92 L344.46,72.79 L344.28,72.69 L344.12,72.64 L343.97,72.63 L343.84,72.67 L343.73,72.74 L343.65,72.86 L343.58,73.02 L343.55,73.22 L343.54,73.45 L343.55,73.71 L343.59,74.00 L344.67,79.77 L344.78,80.31 L344.94,80.87 L345.13,81.45 L345.36,82.04 Z" fill="#111" stroke="#111" stroke-width="0.8"/>
<path d="M335.83,76.76 L335.84,76.52 L335.88,76.33 L335.94,76.17 L336.03,76.05 L336.14,75.97 L339.47,74.38 L339.68,74.31 L339.90,74.28 L340.14,74.30 L340.39,74.36 L340.64,74.46 L340.90,74.61 L341.14,74.79 L341.39,75.02 L345.75,79.85 L346.15,80.29 L346.53,80.79 L346.86,81.32 L347.16,81.89 L347.41,82.48 L347.62,83.08 L347.77,83.68 L347.86,84.27 L347.90,84.84 L347.88,85.39 L347.80,85.89 L347.66,86.35 L347.47,86.76 L347.23,87.10 L346.95,87.37 L346.62,87.58 L343.01,89.30 L342.78,89.36 L342.52,89.34 L342.24,89.25 L341.93,89.08 L341.60,88.85 L341.26,88.54 L340.92,88.17 L340.57,87.74 L340.23,87.27 L339.91,86.75 L339.59,86.21 L339.31,85.63 L339.04,85.05 L336.28,78.60 L336.15,78.26 L336.04,77.93 L335.95,77.61 L335.89,77.30 L335.85,77.02 Z" fill="#fff" stroke="#111" stroke-width="1.4" stroke-linejoin="round"/>
<path d="M339.31,85.63 L339.59,86.21 L339.91,86.75 L340.23,87.27 L340.57,87.74 L340.92,88.17 L341.26,88.54 L341.60,88.85 L341.93,89.08 L342.24,89.25 L342.52,89.34 L342.78,89.36 L343.01,89.30 L343.20,89.16 L343.35,88.95 L343.46,88.67 L343.52,88.33 L343.54,87.92 L343.51,87.47 L343.44,86.97 L343.33,86.43 L343.18,85.87 L342.98,85.29 L342.75,84.70 L342.49,84.12 L342.20,83.54 L341.89,83.00 L341.56,82.48 L341.22,82.01 L337.53,76.86 L337.33,76.61 L337.13,76.40 L336.94,76.23 L336.75,76.09 L336.58,76.00 L336.41,75.94 L336.27,75.93 L336.14,75.97 L336.03,76.05 L335.94,76.17 L335.88,76.33 L335.84,76.52 L335.83,76.76 L335.85,77.02 L335.89,77.30 L335.95,77.61 L336.04,77.93 L336.15,78.26 L336.28,78.60 L339.04,85.05 Z" fill="#111" stroke="#111" stroke-width="0.8"/>
<path d="M330.61,79.40 L330.63,79.17 L330.66,78.97 L330.73,78.81 L330.81,78.69 L330.92,78.61 L334.95,76.69 L335.15,76.62 L335.38,76.59 L335.62,76.61 L335.86,76.67 L336.12,76.77 L336.37,76.92 L336.62,77.11 L336.86,77.33 L337.09,77.58 L337.30,77.87 L337.50,78.17 L337.67,78.50 L340.84,84.90 L341.10,85.49 L341.30,86.09 L341.45,86.69 L341.54,87.28 L341.58,87.85 L341.56,88.40 L341.48,88.90 L341.34,89.36 L341.15,89.77 L340.91,90.11 L340.63,90.39 L340.30,90.59 L336.69,92.31 L336.46,92.37 L336.20,92.36 L335.92,92.26 L335.61,92.10 L335.28,91.86 L334.94,91.55 L334.60,91.18 L334.25,90.76 L333.92,90.28 L333.59,89.77 L333.28,89.22 L332.99,88.65 L332.73,88.06 L332.50,87.48 L332.30,86.90 L332.15,86.33 L330.73,80.25 L330.67,79.94 L330.63,79.66 Z" fill="#fff" stroke="#111" stroke-width="1.4" stroke-linejoin="round"/>
<path d="M332.99,88.65 L333.28,89.22 L333.59,89.77 L333.92,90.28 L334.25,90.76 L334.60,91.18 L334.94,91.55 L335.28,91.86 L335.61,92.10 L335.92,92.26 L336.20,92.36 L336.46,92.37 L336.69,92.31 L336.88,92.17 L337.03,91.96 L337.14,91.68 L337.20,91.34 L337.22,90.93 L337.20,90.48 L337.13,89.98 L337.01,89.44 L336.86,88.88 L336.66,88.30 L336.43,87.71 L336.17,87.13 L333.03,80.71 L332.87,80.38 L332.69,80.07 L332.50,79.77 L332.31,79.50 L332.11,79.26 L331.92,79.05 L331.72,78.87 L331.54,78.73 L331.36,78.64 L331.20,78.59 L331.05,78.58 L330.92,78.61 L330.81,78.69 L330.73,78.81 L330.66,78.97 L330.63,79.17 L330.61,79.40 L330.63,79.66 L330.67,79.94 L330.73,80.25 L332.15,86.33 L332.30,86.90 L332.50,87.48 L332.73,88.06 Z" fill="#111" stroke="#111" stroke-width="0.8"/>
<path d="M322.15,83.43 L322.16,83.20 L322.20,83.01 L322.26,82.85 L322.35,82.73 L322.45,82.65 L325.65,81.12 L325.86,81.05 L326.08,81.02 L326.32,81.04 L326.57,81.10 L326.82,81.21 L327.07,81.35 L327.32,81.54 L327.57,81.76 L332.21,86.30 L332.61,86.75 L332.99,87.24 L333.32,87.78 L333.62,88.34 L333.87,88.93 L334.08,89.53 L334.23,90.13 L334.32,90.73 L334.36,91.30 L334.34,91.84 L334.26,92.35 L334.12,92.81 L333.93,93.21 L333.69,93.55 L333.41,93.83 L333.08,94.03 L329.47,95.75 L329.24,95.82 L328.98,95.80 L328.70,95.71 L328.39,95.54 L328.06,95.30 L327.72,95.00 L327.38,94.63 L327.03,94.20 L326.69,93.73 L326.37,93.21 L326.05,92.66 L325.77,92.09 L322.75,85.61 L322.60,85.28 L322.47,84.94 L322.36,84.61 L322.27,84.29 L322.20,83.98 L322.16,83.70 Z" fill="#fff" stroke="#111" stroke-width="1.4" stroke-linejoin="round"/>
<path d="M325.77,92.09 L326.05,92.66 L326.37,93.21 L326.69,93.73 L327.03,94.20 L327.38,94.63 L327.72,95.00 L328.06,95.30 L328.39,95.54 L328.70,95.71 L328.98,95.80 L329.24,95.82 L329.47,95.75 L329.66,95.62 L329.81,95.41 L329.92,95.13 L329.98,94.78 L330.00,94.38 L329.98,93.92 L329.91,93.42 L329.79,92.89 L329.64,92.32 L329.44,91.74 L329.21,91.16 L328.95,90.57 L328.66,90.00 L328.35,89.45 L328.02,88.94 L327.68,88.46 L323.84,83.54 L323.65,83.29 L323.45,83.08 L323.26,82.91 L323.07,82.77 L322.89,82.67 L322.73,82.62 L322.58,82.61 L322.45,82.65 L322.35,82.73 L322.26,82.85 L322.20,83.01 L322.16,83.20 L322.15,83.43 L322.16,83.70 L322.20,83.98 L322.27,84.29 L322.36,84.61 L322.47,84.94 L322.60,85.28 L322.75,85.61 Z" fill="#111" stroke="#111" stroke-width="0.8"/>
<path d="M316.81,85.83 L316.82,85.59 L316.86,85.40 L316.92,85.24 L317.01,85.12 L317.12,85.04 L321.00,83.19 L321.21,83.11 L321.44,83.08 L321.68,83.10 L321.92,83.16 L322.18,83.27 L322.43,83.41 L322.68,83.60 L322.92,83.82 L323.15,84.08 L323.36,84.36 L323.56,84.67 L327.01,90.79 L327.30,91.36 L327.56,91.95 L327.76,92.54 L327.91,93.15 L328.00,93.74 L328.04,94.31 L328.02,94.85 L327.94,95.36 L327.80,95.82 L327.61,96.22 L327.37,96.57 L327.09,96.84 L326.76,97.05 L323.15,98.77 L322.92,98.83 L322.66,98.81 L322.38,98.72 L322.07,98.55 L321.74,98.32 L321.40,98.01 L321.06,97.64 L320.72,97.21 L320.38,96.74 L320.05,96.22 L319.74,95.67 L319.45,95.10 L319.19,94.52 L318.96,93.93 L318.76,93.35 L318.61,92.79 L316.93,86.68 L316.86,86.37 L316.82,86.09 Z" fill="#fff" stroke="#111" stroke-width="1.4" stroke-linejoin="round"/>
<path d="M319.45,95.10 L319.74,95.67 L320.05,96.22 L320.38,96.74 L320.72,97.21 L321.06,97.64 L321.40,98.01 L321.74,98.32 L322.07,98.55 L322.38,98.72 L322.66,98.81 L322.92,98.83 L323.15,98.77 L323.34,98.63 L323.49,98.42 L323.60,98.14 L323.66,97.79 L323.68,97.39 L323.66,96.93 L323.59,96.43 L323.47,95.90 L323.32,95.34 L323.12,94.76 L322.89,94.17 L322.63,93.58 L322.34,93.01 L319.07,86.81 L318.89,86.49 L318.70,86.20 L318.51,85.93 L318.31,85.68 L318.11,85.47 L317.92,85.30 L317.73,85.16 L317.56,85.07 L317.39,85.01 L317.24,85.00 L317.12,85.04 L317.01,85.12 L316.92,85.24 L316.86,85.40 L316.82,85.59 L316.81,85.83 L316.82,86.09 L316.86,86.37 L316.93,86.68 L318.61,92.79 L318.76,93.35 L318.96,93.93 L319.19,94.52 Z" fill="#111" stroke="#111" stroke-width="0.8"/>
<path d="M303.14,100.26 L303.15,99.49 L303.26,98.75 L303.48,98.06 L303.80,97.43 L304.21,96.89 L304.70,96.44 L305.26,96.11 L314.29,91.80 L314.90,91.58 L315.56,91.48 L316.24,91.50 L316.92,91.65 L317.60,91.91 L318.25,92.29 L318.86,92.77 L319.41,93.34 L319.88,93.99 L320.28,94.71 L320.59,95.46 L320.79,96.24 L320.89,97.03 L320.88,97.81 L320.76,98.55 L320.54,99.24 L320.23,99.87 L319.82,100.41 L319.32,100.85 L318.76,101.19 L309.74,105.49 L309.12,105.72 L308.47,105.82 L307.79,105.79 L307.10,105.65 L306.43,105.39 L305.78,105.01 L305.17,104.53 L304.62,103.95 L304.14,103.30 L303.75,102.59 L303.44,101.83 L303.24,101.05 Z" fill="#fff" stroke="#111" stroke-width="1.2"/>
<path d="M311.25,99.01 L310.86,98.30 L310.38,97.65 L309.83,97.07 L309.22,96.59 L308.57,96.21 L307.90,95.95 L307.21,95.81 L306.53,95.78 L305.88,95.88 L305.26,96.11 L304.70,96.44 L304.21,96.89 L303.80,97.43 L303.48,98.06 L303.26,98.75 L303.15,99.49 L303.14,100.26 L303.24,101.05 L303.44,101.83 L303.75,102.59 L304.14,103.30 L304.62,103.95 L305.17,104.53 L305.78,105.01 L306.43,105.39 L307.10,105.65 L307.79,105.79 L308.47,105.82 L309.12,105.72 L309.74,105.49 L310.30,105.16 L310.79,104.71 L311.20,104.17 L311.52,103.54 L311.74,102.85 L311.85,102.11 L311.86,101.34 L311.76,100.55 L311.56,99.77 Z" fill="#fff" stroke="#111" stroke-width="1.1"/>
<path d="M310.53,99.35 L310.21,98.78 L309.83,98.25 L309.38,97.79 L308.89,97.40 L308.37,97.10 L307.82,96.88 L307.27,96.77 L306.72,96.75 L306.19,96.83 L305.69,97.01 L305.24,97.28 L304.84,97.64 L304.51,98.08 L304.25,98.58 L304.08,99.14 L303.98,99.74 L303.98,100.37 L304.06,101.00 L304.22,101.64 L304.47,102.25 L304.79,102.82 L305.17,103.35 L305.62,103.81 L306.11,104.20 L306.63,104.50 L307.18,104.72 L307.73,104.83 L308.28,104.85 L308.81,104.77 L309.31,104.59 L309.76,104.32 L310.16,103.96 L310.49,103.52 L310.75,103.02 L310.92,102.46 L311.02,101.86 L311.02,101.23 L310.94,100.60 L310.78,99.96 Z" fill="#fff" stroke="#111" stroke-width="1.2"/>
<path d="M318.26,167.06 L318.33,166.45 L318.48,165.88 L318.71,165.37 L319.02,164.91 L319.39,164.53 L319.83,164.24 L469.00,83.51 L469.49,83.30 L470.01,83.19 L470.56,83.18 L471.12,83.27 L471.68,83.46 L472.22,83.74 L472.73,84.10 L473.19,84.54 L473.61,85.04 L473.95,85.60 L474.23,86.20 L474.43,86.82 L474.54,87.45 L474.57,88.08 L474.50,88.68 L474.35,89.25 L474.12,89.77 L473.81,90.22 L473.44,90.60 L473.00,90.89 L323.83,171.63 L323.34,171.83 L322.82,171.94 L322.27,171.95 L321.71,171.86 L321.15,171.68 L320.61,171.40 L320.10,171.03 L319.64,170.59 L319.22,170.09 L318.88,169.53 L318.60,168.93 L318.40,168.31 L318.29,167.68 Z" fill="#fff" stroke="#111" stroke-width="1.2"/>
<path d="M460.28,81.86 L460.31,81.66 L460.36,81.50 L460.44,81.38 L460.54,81.29 L464.20,79.31 L464.40,79.23 L464.63,79.19 L464.87,79.20 L465.12,79.24 L465.37,79.34 L465.63,79.47 L465.89,79.64 L466.14,79.85 L466.39,80.10 L466.61,80.37 L470.59,85.98 L470.96,86.49 L471.29,87.05 L471.57,87.62 L471.80,88.21 L471.98,88.80 L472.11,89.39 L472.17,89.96 L472.18,90.50 L472.12,91.01 L472.01,91.48 L471.84,91.89 L471.62,92.25 L471.35,92.53 L471.03,92.75 L467.51,94.66 L467.29,94.73 L467.03,94.73 L466.74,94.65 L466.43,94.50 L466.09,94.28 L465.73,93.99 L465.37,93.64 L465.00,93.23 L464.64,92.77 L464.29,92.28 L463.95,91.74 L463.63,91.19 L463.34,90.62 L463.08,90.04 L462.86,89.48 L460.55,83.26 L460.44,82.94 L460.36,82.64 L460.31,82.35 L460.28,82.09 Z" fill="#fff" stroke="#111" stroke-width="1.4" stroke-linejoin="round"/>
<path d="M463.63,91.19 L463.95,91.74 L464.29,92.28 L464.64,92.77 L465.00,93.23 L465.37,93.64 L465.73,93.99 L466.09,94.28 L466.43,94.50 L466.74,94.65 L467.03,94.73 L467.29,94.73 L467.51,94.66 L467.70,94.51 L467.84,94.29 L467.93,94.01 L467.98,93.66 L467.98,93.26 L467.93,92.80 L467.83,92.31 L467.69,91.78 L467.51,91.22 L467.28,90.65 L467.02,90.08 L466.73,89.51 L466.42,88.95 L466.08,88.42 L462.39,82.65 L462.19,82.37 L461.98,82.11 L461.77,81.88 L461.56,81.67 L461.36,81.51 L461.17,81.38 L460.99,81.30 L460.82,81.25 L460.67,81.25 L460.54,81.29 L460.44,81.38 L460.36,81.50 L460.31,81.66 L460.28,81.86 L460.28,82.09 L460.31,82.35 L460.36,82.64 L460.44,82.94 L460.55,83.26 L462.86,89.48 L463.08,90.04 L463.34,90.62 Z" fill="#111" stroke="#111" stroke-width="0.8"/>
<path d="M447.04,89.12 L447.07,88.92 L447.13,88.76 L447.21,88.63 L447.31,88.55 L450.56,86.79 L450.76,86.71 L450.98,86.67 L451.22,86.68 L451.47,86.72 L451.73,86.82 L451.99,86.95 L452.25,87.12 L452.50,87.33 L457.11,91.93 L457.53,92.36 L457.93,92.83 L458.29,93.35 L458.62,93.90 L458.90,94.47 L459.14,95.06 L459.32,95.66 L459.44,96.24 L459.51,96.81 L459.51,97.36 L459.46,97.87 L459.35,98.33 L459.18,98.74 L458.96,99.10 L458.69,99.39 L458.37,99.61 L454.85,101.51 L454.63,101.58 L454.37,101.58 L454.08,101.51 L453.76,101.35 L453.42,101.13 L453.07,100.84 L452.71,100.49 L452.34,100.08 L451.98,99.63 L451.62,99.13 L451.28,98.60 L450.97,98.04 L450.68,97.47 L447.59,91.17 L447.44,90.84 L447.31,90.51 L447.21,90.20 L447.13,89.90 L447.07,89.61 L447.05,89.35 Z" fill="#fff" stroke="#111" stroke-width="1.4" stroke-linejoin="round"/>
<path d="M450.97,98.04 L451.28,98.60 L451.62,99.13 L451.98,99.63 L452.34,100.08 L452.71,100.49 L453.07,100.84 L453.42,101.13 L453.76,101.35 L454.08,101.51 L454.37,101.58 L454.63,101.58 L454.85,101.51 L455.03,101.37 L455.17,101.15 L455.27,100.86 L455.31,100.51 L455.31,100.11 L455.26,99.66 L455.17,99.16 L455.03,98.63 L454.84,98.08 L454.62,97.51 L454.36,96.93 L454.07,96.36 L453.75,95.81 L453.41,95.28 L453.06,94.78 L452.70,94.32 L448.74,89.37 L448.53,89.13 L448.33,88.93 L448.12,88.77 L447.93,88.64 L447.75,88.56 L447.58,88.51 L447.44,88.51 L447.31,88.55 L447.21,88.63 L447.13,88.76 L447.07,88.92 L447.04,89.12 L447.05,89.35 L447.07,89.61 L447.13,89.90 L447.21,90.20 L447.31,90.51 L447.44,90.84 L447.59,91.17 L450.68,97.47 Z" fill="#111" stroke="#111" stroke-width="0.8"/>
<path d="M431.85,97.34 L431.88,97.14 L431.93,96.98 L432.01,96.86 L432.12,96.77 L435.91,94.72 L436.11,94.64 L436.33,94.60 L436.57,94.60 L436.82,94.65 L437.08,94.75 L437.34,94.88 L437.60,95.05 L437.85,95.26 L438.09,95.50 L438.32,95.78 L438.53,96.07 L442.29,102.01 L442.62,102.56 L442.90,103.14 L443.13,103.73 L443.31,104.32 L443.43,104.90 L443.50,105.47 L443.51,106.02 L443.45,106.53 L443.34,106.99 L443.17,107.41 L442.95,107.76 L442.68,108.05 L442.36,108.27 L438.84,110.17 L438.62,110.25 L438.36,110.25 L438.07,110.17 L437.76,110.02 L437.42,109.80 L437.06,109.51 L436.70,109.15 L436.33,108.75 L435.97,108.29 L435.62,107.79 L435.28,107.26 L434.96,106.71 L434.67,106.14 L434.41,105.56 L434.19,104.99 L434.00,104.44 L432.02,98.42 L431.94,98.12 L431.88,97.83 L431.85,97.57 Z" fill="#fff" stroke="#111" stroke-width="1.4" stroke-linejoin="round"/>
<path d="M434.96,106.71 L435.28,107.26 L435.62,107.79 L435.97,108.29 L436.33,108.75 L436.70,109.15 L437.06,109.51 L437.42,109.80 L437.76,110.02 L438.07,110.17 L438.36,110.25 L438.62,110.25 L438.84,110.17 L439.03,110.03 L439.17,109.81 L439.26,109.53 L439.31,109.18 L439.31,108.77 L439.26,108.32 L439.16,107.82 L439.02,107.29 L438.84,106.74 L438.61,106.17 L438.35,105.60 L438.06,105.03 L437.75,104.47 L434.15,98.44 L433.96,98.14 L433.76,97.85 L433.55,97.59 L433.34,97.36 L433.13,97.16 L432.93,96.99 L432.74,96.86 L432.56,96.78 L432.39,96.73 L432.24,96.73 L432.12,96.77 L432.01,96.86 L431.93,96.98 L431.88,97.14 L431.85,97.34 L431.85,97.57 L431.88,97.83 L431.94,98.12 L432.02,98.42 L434.00,104.44 L434.19,104.99 L434.41,105.56 L434.67,106.14 Z" fill="#111" stroke="#111" stroke-width="0.8"/>
<path d="M423.29,109.81 L423.36,109.12 L423.53,108.47 L423.80,107.88 L424.15,107.37 L424.58,106.93 L425.08,106.59 L430.36,103.74 L430.91,103.50 L431.51,103.38 L432.14,103.37 L432.78,103.47 L433.41,103.68 L434.03,104.00 L434.61,104.41 L435.15,104.92 L435.62,105.49 L436.02,106.13 L436.34,106.81 L436.56,107.53 L436.69,108.25 L436.72,108.96 L436.65,109.65 L436.48,110.30 L436.21,110.89 L435.86,111.41 L435.43,111.84 L434.93,112.18 L429.65,115.04 L429.09,115.27 L428.49,115.40 L427.87,115.41 L427.23,115.31 L426.59,115.09 L425.98,114.78 L425.39,114.36 L424.86,113.86 L424.39,113.28 L423.99,112.64 L423.67,111.96 L423.45,111.25 L423.32,110.53 Z" fill="#fff" stroke="#111" stroke-width="1.2"/>
<path d="M430.74,108.99 L430.34,108.35 L429.87,107.77 L429.34,107.27 L428.75,106.86 L428.14,106.54 L427.50,106.33 L426.86,106.22 L426.24,106.24 L425.64,106.36 L425.08,106.59 L424.58,106.93 L424.15,107.37 L423.80,107.88 L423.53,108.47 L423.36,109.12 L423.29,109.81 L423.32,110.53 L423.45,111.25 L423.67,111.96 L423.99,112.64 L424.39,113.28 L424.86,113.86 L425.39,114.36 L425.98,114.78 L426.59,115.09 L427.23,115.31 L427.87,115.41 L428.49,115.40 L429.09,115.27 L429.65,115.04 L430.15,114.70 L430.58,114.27 L430.93,113.75 L431.20,113.16 L431.37,112.51 L431.44,111.82 L431.41,111.10 L431.28,110.38 L431.06,109.67 Z" fill="#fff" stroke="#111" stroke-width="1.1"/>
<path d="M415.72,105.98 L415.75,105.78 L415.80,105.62 L415.88,105.49 L415.99,105.41 L419.37,103.58 L419.57,103.49 L419.80,103.45 L420.04,103.46 L420.29,103.51 L420.54,103.60 L420.80,103.73 L421.06,103.91 L421.32,104.12 L421.56,104.36 L426.05,109.40 L426.44,109.87 L426.81,110.39 L427.14,110.94 L427.42,111.51 L427.65,112.10 L427.83,112.69 L427.96,113.28 L428.02,113.85 L428.03,114.40 L427.98,114.91 L427.86,115.37 L427.70,115.78 L427.47,116.14 L427.20,116.43 L426.88,116.65 L423.37,118.55 L423.14,118.62 L422.88,118.62 L422.59,118.55 L422.28,118.39 L421.94,118.17 L421.59,117.88 L421.22,117.53 L420.86,117.12 L420.49,116.67 L420.14,116.17 L419.80,115.64 L419.48,115.08 L419.19,114.51 L418.93,113.94 L416.12,107.70 L415.99,107.37 L415.89,107.05 L415.81,106.75 L415.75,106.47 L415.72,106.21 Z" fill="#fff" stroke="#111" stroke-width="1.4" stroke-linejoin="round"/>
<path d="M419.48,115.08 L419.80,115.64 L420.14,116.17 L420.49,116.67 L420.86,117.12 L421.22,117.53 L421.59,117.88 L421.94,118.17 L422.28,118.39 L422.59,118.55 L422.88,118.62 L423.14,118.62 L423.37,118.55 L423.55,118.41 L423.69,118.19 L423.78,117.90 L423.83,117.55 L423.83,117.15 L423.78,116.70 L423.68,116.20 L423.54,115.67 L423.36,115.12 L423.14,114.55 L422.88,113.97 L422.58,113.40 L422.27,112.85 L421.93,112.32 L421.57,111.82 L417.63,106.48 L417.42,106.22 L417.21,105.99 L417.00,105.79 L416.80,105.62 L416.61,105.50 L416.43,105.41 L416.26,105.37 L416.11,105.37 L415.99,105.41 L415.88,105.49 L415.80,105.62 L415.75,105.78 L415.72,105.98 L415.72,106.21 L415.75,106.47 L415.81,106.75 L415.89,107.05 L415.99,107.37 L416.12,107.70 L418.93,113.94 L419.19,114.51 Z" fill="#111" stroke="#111" stroke-width="0.8"/>
<path d="M405.03,112.02 L405.06,111.82 L405.11,111.66 L405.19,111.53 L405.30,111.45 L409.22,109.33 L409.42,109.24 L409.65,109.20 L409.88,109.21 L410.14,109.26 L410.39,109.35 L410.65,109.48 L410.91,109.65 L411.16,109.86 L411.41,110.11 L411.63,110.38 L411.84,110.67 L412.03,110.99 L415.53,117.22 L415.81,117.80 L416.04,118.39 L416.22,118.98 L416.35,119.56 L416.41,120.13 L416.42,120.68 L416.37,121.19 L416.25,121.65 L416.09,122.07 L415.86,122.42 L415.59,122.71 L415.27,122.93 L411.76,124.83 L411.53,124.91 L411.28,124.91 L410.99,124.83 L410.67,124.68 L410.33,124.46 L409.98,124.17 L409.61,123.81 L409.25,123.41 L408.88,122.95 L408.53,122.45 L408.19,121.92 L407.87,121.37 L407.58,120.80 L407.32,120.22 L407.10,119.65 L406.91,119.10 L405.19,113.10 L405.11,112.79 L405.06,112.51 L405.03,112.25 Z" fill="#fff" stroke="#111" stroke-width="1.4" stroke-linejoin="round"/>
<path d="M407.87,121.37 L408.19,121.92 L408.53,122.45 L408.88,122.95 L409.25,123.41 L409.61,123.81 L409.98,124.17 L410.33,124.46 L410.67,124.68 L410.99,124.83 L411.28,124.91 L411.53,124.91 L411.76,124.83 L411.94,124.69 L412.08,124.47 L412.17,124.19 L412.22,123.84 L412.22,123.43 L412.17,122.98 L412.07,122.48 L411.93,121.95 L411.75,121.40 L411.53,120.83 L411.27,120.26 L410.98,119.69 L407.52,113.43 L407.33,113.11 L407.14,112.81 L406.94,112.53 L406.73,112.26 L406.52,112.03 L406.31,111.83 L406.11,111.67 L405.92,111.54 L405.74,111.45 L405.57,111.41 L405.42,111.41 L405.30,111.45 L405.19,111.53 L405.11,111.66 L405.06,111.82 L405.03,112.02 L405.03,112.25 L405.06,112.51 L405.11,112.79 L405.19,113.10 L406.91,119.10 L407.10,119.65 L407.32,120.22 L407.58,120.80 Z" fill="#111" stroke="#111" stroke-width="0.8"/>
<path d="M397.31,116.20 L397.34,116.00 L397.39,115.84 L397.47,115.71 L397.58,115.63 L400.69,113.94 L400.89,113.86 L401.12,113.82 L401.36,113.82 L401.61,113.87 L401.86,113.96 L402.12,114.10 L402.38,114.27 L402.63,114.48 L407.51,118.78 L407.93,119.20 L408.33,119.68 L408.69,120.19 L409.02,120.74 L409.30,121.32 L409.54,121.91 L409.72,122.50 L409.84,123.09 L409.91,123.66 L409.91,124.20 L409.86,124.71 L409.75,125.18 L409.58,125.59 L409.36,125.94 L409.08,126.23 L408.77,126.45 L405.25,128.36 L405.03,128.43 L404.77,128.43 L404.48,128.35 L404.16,128.20 L403.82,127.98 L403.47,127.69 L403.11,127.34 L402.74,126.93 L402.38,126.47 L402.02,125.97 L401.68,125.44 L401.37,124.89 L398.02,118.57 L397.85,118.24 L397.71,117.92 L397.58,117.59 L397.47,117.27 L397.39,116.97 L397.34,116.69 L397.31,116.43 Z" fill="#fff" stroke="#111" stroke-width="1.4" stroke-linejoin="round"/>
<path d="M401.37,124.89 L401.68,125.44 L402.02,125.97 L402.38,126.47 L402.74,126.93 L403.11,127.34 L403.47,127.69 L403.82,127.98 L404.16,128.20 L404.48,128.35 L404.77,128.43 L405.03,128.43 L405.25,128.36 L405.43,128.21 L405.57,127.99 L405.66,127.71 L405.71,127.36 L405.71,126.96 L405.66,126.50 L405.57,126.00 L405.43,125.48 L405.24,124.92 L405.02,124.35 L404.76,123.78 L404.47,123.21 L404.15,122.65 L403.81,122.12 L403.46,121.62 L403.09,121.17 L399.01,116.44 L398.80,116.21 L398.59,116.01 L398.39,115.84 L398.20,115.72 L398.02,115.63 L397.85,115.59 L397.70,115.59 L397.58,115.63 L397.47,115.71 L397.39,115.84 L397.34,116.00 L397.31,116.20 L397.31,116.43 L397.34,116.69 L397.39,116.97 L397.47,117.27 L397.58,117.59 L397.71,117.92 L397.85,118.24 L398.02,118.57 Z" fill="#111" stroke="#111" stroke-width="0.8"/>
<path d="M389.87,127.90 L389.94,127.21 L390.11,126.56 L390.38,125.97 L390.73,125.45 L391.16,125.02 L391.66,124.68 L397.82,121.35 L398.37,121.12 L398.97,120.99 L399.60,120.98 L400.24,121.08 L400.87,121.29 L401.49,121.61 L402.07,122.03 L402.61,122.53 L403.08,123.11 L403.48,123.74 L403.80,124.43 L404.02,125.14 L404.15,125.86 L404.18,126.57 L404.11,127.26 L403.94,127.91 L403.67,128.50 L403.32,129.02 L402.89,129.45 L402.39,129.79 L396.23,133.12 L395.67,133.36 L395.08,133.48 L394.45,133.49 L393.81,133.39 L393.17,133.18 L392.56,132.86 L391.97,132.45 L391.44,131.95 L390.97,131.37 L390.57,130.73 L390.25,130.05 L390.03,129.34 L389.90,128.61 Z" fill="#fff" stroke="#111" stroke-width="1.2"/>
<path d="M397.32,127.07 L396.92,126.44 L396.45,125.86 L395.92,125.36 L395.34,124.94 L394.72,124.63 L394.08,124.41 L393.44,124.31 L392.82,124.32 L392.22,124.45 L391.66,124.68 L391.16,125.02 L390.73,125.45 L390.38,125.97 L390.11,126.56 L389.94,127.21 L389.87,127.90 L389.90,128.61 L390.03,129.34 L390.25,130.05 L390.57,130.73 L390.97,131.37 L391.44,131.95 L391.97,132.45 L392.56,132.86 L393.17,133.18 L393.81,133.39 L394.45,133.49 L395.08,133.48 L395.67,133.36 L396.23,133.12 L396.73,132.79 L397.16,132.35 L397.51,131.83 L397.78,131.24 L397.95,130.60 L398.02,129.91 L397.99,129.19 L397.86,128.47 L397.64,127.76 Z" fill="#fff" stroke="#111" stroke-width="1.1"/>
<path d="M384.80,122.81 L384.83,122.61 L384.88,122.45 L384.96,122.32 L385.07,122.24 L388.86,120.19 L389.06,120.10 L389.28,120.06 L389.52,120.07 L389.77,120.12 L390.03,120.21 L390.29,120.34 L390.55,120.52 L390.80,120.73 L391.04,120.97 L391.27,121.24 L391.48,121.54 L395.24,127.48 L395.56,128.03 L395.85,128.60 L396.08,129.19 L396.26,129.78 L396.38,130.37 L396.45,130.94 L396.46,131.48 L396.40,131.99 L396.29,132.46 L396.12,132.87 L395.90,133.23 L395.63,133.52 L395.31,133.74 L391.79,135.64 L391.57,135.71 L391.31,135.71 L391.02,135.63 L390.70,135.48 L390.37,135.26 L390.01,134.97 L389.65,134.62 L389.28,134.21 L388.92,133.75 L388.57,133.26 L388.23,132.72 L387.91,132.17 L387.62,131.60 L387.36,131.03 L387.13,130.46 L386.95,129.90 L384.96,123.89 L384.88,123.58 L384.83,123.30 L384.80,123.04 Z" fill="#fff" stroke="#111" stroke-width="1.4" stroke-linejoin="round"/>
<path d="M387.91,132.17 L388.23,132.72 L388.57,133.26 L388.92,133.75 L389.28,134.21 L389.65,134.62 L390.01,134.97 L390.37,135.26 L390.70,135.48 L391.02,135.63 L391.31,135.71 L391.57,135.71 L391.79,135.64 L391.98,135.49 L392.12,135.28 L392.21,134.99 L392.26,134.64 L392.26,134.24 L392.21,133.78 L392.11,133.29 L391.97,132.76 L391.79,132.20 L391.56,131.63 L391.30,131.06 L391.01,130.49 L390.69,129.94 L387.10,123.90 L386.91,123.60 L386.71,123.32 L386.50,123.05 L386.29,122.82 L386.08,122.62 L385.88,122.46 L385.69,122.33 L385.51,122.24 L385.34,122.20 L385.19,122.20 L385.07,122.24 L384.96,122.32 L384.88,122.45 L384.83,122.61 L384.80,122.81 L384.80,123.04 L384.83,123.30 L384.88,123.58 L384.96,123.89 L386.95,129.90 L387.13,130.46 L387.36,131.03 L387.62,131.60 Z" fill="#111" stroke="#111" stroke-width="0.8"/>
<path d="M367.88,139.80 L367.96,139.11 L368.13,138.46 L368.39,137.87 L368.74,137.35 L369.17,136.92 L369.67,136.58 L376.71,132.77 L377.27,132.54 L377.87,132.41 L378.49,132.40 L379.13,132.50 L379.77,132.72 L380.38,133.03 L380.97,133.45 L381.50,133.95 L381.97,134.53 L382.37,135.17 L382.69,135.85 L382.91,136.56 L383.04,137.28 L383.07,138.00 L383.00,138.69 L382.83,139.34 L382.56,139.93 L382.21,140.44 L381.78,140.88 L381.28,141.22 L374.24,145.02 L373.69,145.26 L373.09,145.38 L372.46,145.39 L371.82,145.29 L371.19,145.08 L370.57,144.76 L369.99,144.35 L369.45,143.84 L368.98,143.27 L368.58,142.63 L368.27,141.95 L368.04,141.24 L367.91,140.51 Z" fill="#fff" stroke="#111" stroke-width="1.2"/>
<path d="M375.34,138.97 L374.94,138.34 L374.47,137.76 L373.93,137.26 L373.35,136.84 L372.73,136.52 L372.10,136.31 L371.46,136.21 L370.83,136.22 L370.23,136.35 L369.67,136.58 L369.17,136.92 L368.74,137.35 L368.39,137.87 L368.13,138.46 L367.96,139.11 L367.88,139.80 L367.91,140.51 L368.04,141.24 L368.27,141.95 L368.58,142.63 L368.98,143.27 L369.45,143.84 L369.99,144.35 L370.57,144.76 L371.19,145.08 L371.82,145.29 L372.46,145.39 L373.09,145.38 L373.69,145.26 L374.24,145.02 L374.74,144.69 L375.18,144.25 L375.53,143.73 L375.79,143.14 L375.96,142.49 L376.03,141.80 L376.01,141.09 L375.88,140.37 L375.65,139.66 Z" fill="#fff" stroke="#111" stroke-width="1.1"/>
<path d="M361.03,135.67 L361.06,135.47 L361.11,135.31 L361.19,135.19 L361.30,135.10 L364.55,133.34 L364.75,133.26 L364.97,133.22 L365.21,133.23 L365.46,133.27 L365.72,133.37 L365.98,133.50 L366.24,133.67 L366.49,133.88 L371.10,138.48 L371.52,138.91 L371.92,139.38 L372.28,139.90 L372.61,140.45 L372.89,141.02 L373.13,141.61 L373.31,142.21 L373.43,142.79 L373.50,143.36 L373.50,143.91 L373.45,144.42 L373.34,144.88 L373.17,145.29 L372.95,145.65 L372.67,145.94 L372.36,146.16 L368.84,148.06 L368.62,148.14 L368.36,148.13 L368.07,148.06 L367.75,147.90 L367.41,147.68 L367.06,147.39 L366.70,147.04 L366.33,146.63 L365.97,146.18 L365.61,145.68 L365.27,145.15 L364.96,144.59 L364.66,144.02 L361.58,137.72 L361.43,137.39 L361.30,137.06 L361.20,136.75 L361.12,136.45 L361.06,136.16 L361.03,135.90 Z" fill="#fff" stroke="#111" stroke-width="1.4" stroke-linejoin="round"/>
<path d="M364.96,144.59 L365.27,145.15 L365.61,145.68 L365.97,146.18 L366.33,146.63 L366.70,147.04 L367.06,147.39 L367.41,147.68 L367.75,147.90 L368.07,148.06 L368.36,148.13 L368.62,148.14 L368.84,148.06 L369.02,147.92 L369.16,147.70 L369.26,147.41 L369.30,147.07 L369.30,146.66 L369.25,146.21 L369.16,145.71 L369.02,145.18 L368.83,144.63 L368.61,144.06 L368.35,143.48 L368.06,142.91 L367.74,142.36 L367.40,141.83 L367.05,141.33 L366.68,140.87 L362.73,135.92 L362.52,135.68 L362.32,135.48 L362.11,135.32 L361.92,135.19 L361.74,135.11 L361.57,135.06 L361.43,135.06 L361.30,135.10 L361.19,135.19 L361.11,135.31 L361.06,135.47 L361.03,135.67 L361.03,135.90 L361.06,136.16 L361.12,136.45 L361.20,136.75 L361.30,137.06 L361.43,137.39 L361.58,137.72 L364.66,144.02 Z" fill="#111" stroke="#111" stroke-width="0.8"/>
<path d="M354.37,139.43 L354.40,139.24 L354.45,139.07 L354.53,138.95 L354.64,138.86 L358.56,136.74 L358.77,136.66 L358.99,136.62 L359.23,136.62 L359.48,136.67 L359.74,136.76 L360.00,136.90 L360.25,137.07 L360.51,137.28 L360.75,137.52 L360.98,137.79 L361.18,138.09 L361.37,138.40 L364.87,144.64 L365.15,145.21 L365.39,145.80 L365.57,146.39 L365.69,146.98 L365.76,147.55 L365.76,148.10 L365.71,148.60 L365.60,149.07 L365.43,149.48 L365.21,149.84 L364.94,150.13 L364.62,150.35 L361.10,152.25 L360.88,152.32 L360.62,152.32 L360.33,152.24 L360.01,152.09 L359.67,151.87 L359.32,151.58 L358.96,151.23 L358.59,150.82 L358.23,150.37 L357.87,149.87 L357.53,149.34 L357.22,148.78 L356.93,148.21 L356.67,147.64 L356.44,147.07 L356.26,146.51 L354.54,140.51 L354.46,140.21 L354.40,139.93 L354.37,139.67 Z" fill="#fff" stroke="#111" stroke-width="1.4" stroke-linejoin="round"/>
<path d="M357.22,148.78 L357.53,149.34 L357.87,149.87 L358.23,150.37 L358.59,150.82 L358.96,151.23 L359.32,151.58 L359.67,151.87 L360.01,152.09 L360.33,152.24 L360.62,152.32 L360.88,152.32 L361.10,152.25 L361.28,152.10 L361.42,151.89 L361.52,151.60 L361.56,151.25 L361.56,150.85 L361.51,150.40 L361.42,149.90 L361.28,149.37 L361.09,148.81 L360.87,148.25 L360.61,147.67 L360.32,147.10 L356.86,140.85 L356.68,140.53 L356.48,140.23 L356.28,139.94 L356.07,139.68 L355.86,139.45 L355.66,139.25 L355.45,139.08 L355.26,138.95 L355.08,138.87 L354.91,138.82 L354.77,138.82 L354.64,138.86 L354.53,138.95 L354.45,139.07 L354.40,139.24 L354.37,139.43 L354.37,139.67 L354.40,139.93 L354.46,140.21 L354.54,140.51 L356.26,146.51 L356.44,147.07 L356.67,147.64 L356.93,148.21 Z" fill="#111" stroke="#111" stroke-width="0.8"/>
<path d="M344.89,144.56 L344.92,144.37 L344.98,144.20 L345.06,144.08 L345.16,144.00 L348.27,142.31 L348.48,142.23 L348.70,142.19 L348.94,142.19 L349.19,142.24 L349.45,142.33 L349.71,142.47 L349.97,142.64 L350.22,142.85 L355.09,147.15 L355.51,147.57 L355.91,148.04 L356.28,148.56 L356.60,149.11 L356.89,149.69 L357.12,150.28 L357.30,150.87 L357.42,151.45 L357.49,152.02 L357.50,152.57 L357.44,153.08 L357.33,153.54 L357.16,153.96 L356.94,154.31 L356.67,154.60 L356.35,154.82 L352.83,156.73 L352.61,156.80 L352.35,156.80 L352.06,156.72 L351.74,156.57 L351.41,156.35 L351.05,156.06 L350.69,155.71 L350.32,155.30 L349.96,154.84 L349.61,154.34 L349.27,153.81 L348.95,153.26 L345.61,146.94 L345.44,146.61 L345.29,146.28 L345.16,145.96 L345.06,145.64 L344.98,145.34 L344.92,145.06 L344.90,144.80 Z" fill="#fff" stroke="#111" stroke-width="1.4" stroke-linejoin="round"/>
<path d="M348.95,153.26 L349.27,153.81 L349.61,154.34 L349.96,154.84 L350.32,155.30 L350.69,155.71 L351.05,156.06 L351.41,156.35 L351.74,156.57 L352.06,156.72 L352.35,156.80 L352.61,156.80 L352.83,156.73 L353.02,156.58 L353.15,156.36 L353.25,156.08 L353.30,155.73 L353.30,155.32 L353.25,154.87 L353.15,154.37 L353.01,153.84 L352.83,153.29 L352.60,152.72 L352.34,152.15 L352.05,151.58 L351.73,151.02 L351.40,150.49 L351.04,149.99 L350.68,149.53 L346.59,144.81 L346.38,144.58 L346.18,144.38 L345.97,144.21 L345.78,144.09 L345.60,144.00 L345.43,143.95 L345.29,143.95 L345.16,144.00 L345.06,144.08 L344.98,144.20 L344.92,144.37 L344.89,144.56 L344.90,144.80 L344.92,145.06 L344.98,145.34 L345.06,145.64 L345.16,145.96 L345.29,146.28 L345.44,146.61 L345.61,146.94 Z" fill="#111" stroke="#111" stroke-width="0.8"/>
<path d="M336.80,148.69 L336.83,148.49 L336.88,148.33 L336.96,148.20 L337.07,148.12 L340.72,146.14 L340.93,146.06 L341.15,146.02 L341.39,146.02 L341.64,146.07 L341.90,146.16 L342.16,146.30 L342.42,146.47 L342.67,146.68 L342.91,146.92 L343.14,147.19 L347.12,152.80 L347.48,153.32 L347.81,153.87 L348.09,154.45 L348.33,155.04 L348.51,155.63 L348.63,156.21 L348.69,156.78 L348.70,157.33 L348.65,157.84 L348.54,158.30 L348.37,158.72 L348.15,159.07 L347.87,159.36 L347.56,159.58 L344.04,161.48 L343.82,161.56 L343.56,161.56 L343.27,161.48 L342.95,161.33 L342.61,161.11 L342.26,160.82 L341.90,160.46 L341.53,160.06 L341.17,159.60 L340.81,159.10 L340.47,158.57 L340.15,158.02 L339.86,157.45 L339.60,156.87 L339.38,156.30 L337.07,150.08 L336.97,149.77 L336.89,149.46 L336.83,149.18 L336.80,148.92 Z" fill="#fff" stroke="#111" stroke-width="1.4" stroke-linejoin="round"/>
<path d="M340.15,158.02 L340.47,158.57 L340.81,159.10 L341.17,159.60 L341.53,160.06 L341.90,160.46 L342.26,160.82 L342.61,161.11 L342.95,161.33 L343.27,161.48 L343.56,161.56 L343.82,161.56 L344.04,161.48 L344.22,161.34 L344.36,161.12 L344.45,160.84 L344.50,160.49 L344.50,160.08 L344.45,159.63 L344.36,159.13 L344.22,158.60 L344.03,158.05 L343.81,157.48 L343.55,156.91 L343.26,156.34 L342.94,155.78 L342.60,155.25 L338.91,149.48 L338.71,149.20 L338.50,148.93 L338.29,148.70 L338.09,148.50 L337.88,148.34 L337.69,148.21 L337.51,148.12 L337.34,148.08 L337.20,148.08 L337.07,148.12 L336.96,148.20 L336.88,148.33 L336.83,148.49 L336.80,148.69 L336.80,148.92 L336.83,149.18 L336.89,149.46 L336.97,149.77 L337.07,150.08 L339.38,156.30 L339.60,156.87 L339.86,157.45 Z" fill="#111" stroke="#111" stroke-width="0.8"/>
<path d="M301.92,175.50 L302.00,174.81 L302.17,174.16 L302.43,173.57 L302.78,173.05 L303.22,172.62 L303.72,172.28 L314.27,166.57 L314.83,166.33 L315.42,166.21 L316.05,166.20 L316.69,166.30 L317.33,166.51 L317.94,166.83 L318.53,167.24 L319.06,167.75 L319.53,168.32 L319.93,168.96 L320.25,169.64 L320.47,170.35 L320.60,171.08 L320.63,171.79 L320.56,172.48 L320.39,173.13 L320.12,173.72 L319.77,174.24 L319.34,174.67 L318.84,175.01 L308.28,180.72 L307.73,180.96 L307.13,181.08 L306.50,181.09 L305.86,180.99 L305.23,180.78 L304.61,180.46 L304.03,180.05 L303.49,179.54 L303.02,178.97 L302.62,178.33 L302.31,177.64 L302.08,176.93 L301.95,176.21 Z" fill="#fff" stroke="#111" stroke-width="1.2"/>
<path d="M309.38,174.67 L308.98,174.03 L308.51,173.46 L307.97,172.95 L307.39,172.54 L306.77,172.22 L306.14,172.01 L305.50,171.91 L304.87,171.92 L304.27,172.04 L303.72,172.28 L303.22,172.62 L302.78,173.05 L302.43,173.57 L302.17,174.16 L302.00,174.81 L301.92,175.50 L301.95,176.21 L302.08,176.93 L302.31,177.64 L302.62,178.33 L303.02,178.97 L303.49,179.54 L304.03,180.05 L304.61,180.46 L305.23,180.78 L305.86,180.99 L306.50,181.09 L307.13,181.08 L307.73,180.96 L308.28,180.72 L308.78,180.38 L309.22,179.95 L309.57,179.43 L309.83,178.84 L310.00,178.19 L310.08,177.50 L310.05,176.79 L309.92,176.07 L309.69,175.36 Z" fill="#fff" stroke="#111" stroke-width="1.1"/>
<ellipse cx="324" cy="165.8" rx="13.2" ry="16" transform="rotate(-8 324 165.8)" fill="#111"/>
<circle cx="327.97" cy="152.27" r="0.9" fill="#fff"/>
<circle cx="330.65" cy="154.00" r="0.9" fill="#fff"/>
<circle cx="332.89" cy="156.54" r="0.9" fill="#fff"/>
<circle cx="334.51" cy="159.71" r="0.9" fill="#fff"/>
<circle cx="335.42" cy="163.30" r="0.9" fill="#fff"/>
<circle cx="335.56" cy="167.06" r="0.9" fill="#fff"/>
<circle cx="334.90" cy="170.73" r="0.9" fill="#fff"/>
<circle cx="333.50" cy="174.06" r="0.9" fill="#fff"/>
<circle cx="331.46" cy="176.83" r="0.9" fill="#fff"/>
<circle cx="328.90" cy="178.85" r="0.9" fill="#fff"/>
<ellipse cx="322.2" cy="168.3" rx="6.6" ry="8.6" transform="rotate(-12 322.2 168.3)" fill="#fff" stroke="#111" stroke-width="1.2"/>
<ellipse cx="322.8" cy="168" rx="4.2" ry="6.2" transform="rotate(-12 322.8 168)" fill="none" stroke="#111" stroke-width="1"/>
<path d="M307.95,172.06 L308.03,171.29 L308.22,170.56 L308.52,169.89 L308.92,169.31 L309.40,168.82 L309.97,168.44 L317.88,164.16 L318.51,163.90 L319.18,163.76 L319.89,163.74 L320.60,163.86 L321.32,164.10 L322.01,164.45 L322.67,164.92 L323.27,165.49 L323.80,166.13 L324.25,166.85 L324.61,167.62 L324.86,168.42 L325.00,169.23 L325.04,170.04 L324.95,170.81 L324.76,171.54 L324.47,172.21 L324.07,172.79 L323.58,173.28 L323.02,173.66 L315.11,177.94 L314.48,178.20 L313.81,178.34 L313.10,178.36 L312.38,178.24 L311.67,178.00 L310.97,177.65 L310.32,177.18 L309.72,176.62 L309.19,175.97 L308.74,175.25 L308.38,174.48 L308.13,173.68 L307.98,172.87 Z" fill="#fff" stroke="#111" stroke-width="1.2"/>
<path d="M316.33,171.14 L315.89,170.42 L315.35,169.77 L314.75,169.20 L314.10,168.74 L313.40,168.38 L312.69,168.14 L311.97,168.03 L311.27,168.04 L310.59,168.18 L309.97,168.44 L309.40,168.82 L308.92,169.31 L308.52,169.89 L308.22,170.56 L308.03,171.29 L307.95,172.06 L307.98,172.87 L308.13,173.68 L308.38,174.48 L308.74,175.25 L309.19,175.97 L309.72,176.62 L310.32,177.18 L310.97,177.65 L311.67,178.00 L312.38,178.24 L313.10,178.36 L313.81,178.34 L314.48,178.20 L315.11,177.94 L315.67,177.56 L316.15,177.07 L316.55,176.49 L316.85,175.83 L317.04,175.10 L317.12,174.32 L317.09,173.52 L316.94,172.70 L316.69,171.90 Z" fill="#fff" stroke="#111" stroke-width="1.2"/>
<path d="M301.09,175.91 L301.16,175.17 L301.35,174.46 L301.63,173.82 L302.02,173.26 L302.48,172.79 L303.02,172.43 L310.06,168.62 L310.66,168.37 L311.31,168.23 L311.99,168.22 L312.68,168.33 L313.37,168.56 L314.04,168.90 L314.67,169.35 L315.25,169.90 L315.76,170.52 L316.19,171.21 L316.54,171.95 L316.78,172.72 L316.92,173.50 L316.95,174.28 L316.87,175.03 L316.69,175.73 L316.40,176.37 L316.02,176.93 L315.55,177.40 L315.01,177.77 L307.98,181.57 L307.37,181.83 L306.72,181.96 L306.04,181.97 L305.35,181.86 L304.66,181.63 L303.99,181.29 L303.36,180.84 L302.79,180.30 L302.27,179.67 L301.84,178.98 L301.50,178.24 L301.26,177.47 L301.12,176.69 Z" fill="#fff" stroke="#111" stroke-width="1.2"/>
<path d="M309.16,175.02 L308.73,174.33 L308.21,173.70 L307.64,173.16 L307.01,172.71 L306.34,172.37 L305.65,172.14 L304.96,172.03 L304.28,172.04 L303.63,172.17 L303.02,172.43 L302.48,172.79 L302.02,173.26 L301.63,173.82 L301.35,174.46 L301.16,175.17 L301.09,175.91 L301.12,176.69 L301.26,177.47 L301.50,178.24 L301.84,178.98 L302.27,179.67 L302.79,180.30 L303.36,180.84 L303.99,181.29 L304.66,181.63 L305.35,181.86 L306.04,181.97 L306.72,181.96 L307.37,181.83 L307.98,181.57 L308.52,181.21 L308.98,180.74 L309.37,180.18 L309.65,179.54 L309.84,178.83 L309.91,178.09 L309.88,177.31 L309.74,176.53 L309.50,175.76 Z" fill="#fff" stroke="#111" stroke-width="1.2"/>
<path d="M307.05,176.16 L306.86,175.87 L306.65,175.61 L306.40,175.38 L306.14,175.19 L305.85,175.04 L305.56,174.94 L305.27,174.90 L304.98,174.90 L304.71,174.96 L304.45,175.07 L304.22,175.22 L304.03,175.42 L303.86,175.66 L303.74,175.93 L303.67,176.22 L303.63,176.54 L303.65,176.87 L303.70,177.20 L303.81,177.52 L303.95,177.84 L304.14,178.13 L304.35,178.39 L304.60,178.62 L304.86,178.81 L305.15,178.96 L305.44,179.06 L305.73,179.10 L306.02,179.10 L306.29,179.04 L306.55,178.93 L306.78,178.78 L306.97,178.58 L307.14,178.34 L307.26,178.07 L307.33,177.78 L307.37,177.46 L307.35,177.13 L307.30,176.80 L307.19,176.48 Z" fill="none" stroke="#111" stroke-width="0.9"/>
<path d="M195.95,155.55 L195.98,154.16 L196.09,152.77 L196.27,151.39 L196.53,150.02 L196.86,148.67 L197.26,147.35 L197.74,146.06 L198.28,144.82 L198.88,143.62 L199.55,142.48 L200.28,141.39 L201.06,140.37 L201.89,139.41 L202.77,138.53 L203.70,137.72 L204.66,137.00 L205.65,136.36 L218.85,128.96 L219.88,128.41 L220.93,127.95 L221.99,127.58 L223.08,127.31 L224.16,127.13 L225.26,127.05 L226.35,127.06 L227.43,127.18 L228.50,127.39 L229.55,127.69 L230.58,128.09 L231.58,128.59 L232.55,129.17 L233.48,129.84 L234.37,130.59 L235.21,131.42 L236.00,132.33 L236.73,133.31 L237.41,134.36 L238.03,135.46 L238.58,136.63 L239.06,137.84 L239.48,139.10 L239.82,140.40 L240.09,141.73 L240.29,143.08 L240.41,144.46 L240.45,145.85 L240.42,147.24 L240.31,148.63 L240.13,150.01 L239.87,151.38 L239.54,152.73 L239.14,154.05 L238.66,155.34 L238.12,156.58 L237.52,157.78 L236.85,158.92 L236.12,160.01 L235.34,161.03 L234.51,161.99 L233.63,162.87 L232.70,163.68 L231.74,164.40 L230.75,165.04 L217.55,172.44 L216.52,172.99 L215.47,173.45 L214.41,173.82 L213.32,174.09 L212.24,174.27 L211.14,174.35 L210.05,174.34 L208.97,174.22 L207.90,174.01 L206.85,173.71 L205.82,173.31 L204.82,172.81 L203.85,172.23 L202.92,171.56 L202.03,170.81 L201.19,169.98 L200.40,169.07 L199.67,168.09 L198.99,167.04 L198.37,165.94 L197.82,164.77 L197.34,163.56 L196.92,162.30 L196.58,161.00 L196.31,159.67 L196.11,158.32 L195.99,156.94 Z" fill="#fff" stroke="#111" stroke-width="1.4" stroke-linejoin="round"/>
<line x1="197.74" y1="146.06" x2="210.94" y2="138.66" stroke="#111" stroke-width="2.1"/>
<line x1="199.38" y1="142.76" x2="212.58" y2="135.36" stroke="#111" stroke-width="2.1"/>
<line x1="201.47" y1="139.88" x2="214.67" y2="132.48" stroke="#111" stroke-width="2.1"/>
<line x1="203.93" y1="137.53" x2="217.13" y2="130.13" stroke="#111" stroke-width="2.1"/>
<line x1="206.68" y1="135.81" x2="219.88" y2="128.41" stroke="#111" stroke-width="2.1"/>
<line x1="209.60" y1="134.77" x2="222.80" y2="127.37" stroke="#111" stroke-width="2.1"/>
<line x1="212.60" y1="134.44" x2="225.80" y2="127.04" stroke="#111" stroke-width="2.1"/>
<line x1="215.57" y1="134.86" x2="228.77" y2="127.46" stroke="#111" stroke-width="2.1"/>
<line x1="218.38" y1="135.99" x2="231.58" y2="128.59" stroke="#111" stroke-width="2.1"/>
<line x1="220.95" y1="137.79" x2="234.15" y2="130.39" stroke="#111" stroke-width="2.1"/>
<line x1="223.17" y1="140.21" x2="236.37" y2="132.81" stroke="#111" stroke-width="2.1"/>
<line x1="224.97" y1="143.15" x2="238.17" y2="135.75" stroke="#111" stroke-width="2.1"/>
<line x1="226.28" y1="146.50" x2="239.48" y2="139.10" stroke="#111" stroke-width="2.1"/>
<line x1="227.05" y1="150.14" x2="240.25" y2="142.74" stroke="#111" stroke-width="2.1"/>
<line x1="227.25" y1="153.94" x2="240.45" y2="146.54" stroke="#111" stroke-width="2.1"/>
<path d="M209.53,143.64 L209.73,142.61 L209.97,141.59 L210.26,140.59 L210.58,139.60 L210.95,138.64 L211.35,137.70 L211.79,136.78 L212.27,135.89 L212.78,135.03 L213.32,134.21 L213.90,133.42 L214.51,132.67 L215.14,131.96 L215.80,131.29 L216.49,130.66 L217.20,130.08 L217.93,129.55 L218.68,129.06 L219.45,128.63 L220.23,128.24 L221.02,127.91 L221.83,127.63 L222.64,127.40 L223.46,127.23 L224.28,127.12 L225.11,127.05 L225.93,127.05 L226.75,127.10 L227.57,127.20 L228.37,127.36 L229.17,127.57 L229.96,127.84 L230.73,128.16 L231.48,128.53 L232.22,128.96 L232.93,129.43 L233.62,129.95 L234.29,130.52 L234.94,131.14 L235.55,131.80 L236.13,132.50 L236.69,133.24 L237.21,134.02 L237.69,134.84 L238.14,135.69 L238.55,136.57 L238.93,137.48 L239.26,138.41 L239.56,139.37 L239.81,140.35 L240.03,141.35 L240.20,142.37 L240.32,143.40 L240.41,144.44 L240.45,145.48 L240.45,146.53 L240.40,147.58 L240.31,148.63" fill="none" stroke="#111" stroke-width="1.4"/>
<path d="M240.31,148.63 L240.18,149.70 L240.00,150.75 L239.78,151.80 L239.51,152.83 L239.20,153.85 L238.85,154.85 L238.46,155.82 L238.03,156.77 L237.57,157.69 L237.06,158.58 L236.52,159.43 L235.95,160.25 L235.34,161.03 L234.70,161.78 L234.04,162.47 L233.35,163.13 L232.63,163.74 L231.89,164.30 L231.13,164.81 L230.36,165.26 L229.56,165.67 L228.75,166.02 L227.94,166.32 L227.11,166.56 L226.27,166.74 L225.44,166.87" fill="none" stroke="#111" stroke-width="1.1" stroke-dasharray="2 1.5"/>
<ellipse cx="211.6" cy="154.4" rx="15.6" ry="20.0" transform="rotate(6 211.6 154.4)" fill="#fff" stroke="#111" stroke-width="1.5" />
<ellipse cx="211.4" cy="154.6" rx="13.6" ry="17.7" transform="rotate(6 211.4 154.6)" fill="none" stroke="#111" stroke-width="0.9" />
<path d="M199.6,140 L207.6,139.3 L205,148.6 Z" fill="#fff" stroke="#111" stroke-width="1.6" stroke-linejoin="round"/>
<path d="M211.8,142 L220.4,146.8 L220.2,154.6 L213.8,153.6 Z" fill="#fff" stroke="#111" stroke-width="1.7" stroke-linejoin="round"/>
<path d="M214.8,163.6 L222,162.4 L219,170 Z" fill="#fff" stroke="#111" stroke-width="1.5" stroke-linejoin="round"/>
<path d="M196.4,145.5 L199.4,151 L198.4,156.5 Z" fill="#fff" stroke="#111" stroke-width="1.2" stroke-linejoin="round"/>
<ellipse cx="208" cy="157.3" rx="4.5" ry="6.0" transform="rotate(8 208 157.3)" fill="#fff" stroke="#111" stroke-width="1.5" />
<ellipse cx="208.3" cy="157.2" rx="1.8" ry="2.5" transform="rotate(8 208.3 157.2)" fill="none" stroke="#111" stroke-width="1.1" />
<path d="M200,166 L203,170.5 M204.5,170 L208,172.5" stroke="#111" stroke-width="1.2"/>
<g transform="translate(174.6 173.7) rotate(-20)"><rect x="4" y="-3.1" width="9" height="6.2" fill="#fff" stroke="#111" stroke-width="1.2"/><rect x="10.5" y="-3.2" width="8.6" height="6.4" rx="1.2" fill="#111"/><g stroke="#555" stroke-width="0.5"><line x1="12.5" y1="-3" x2="12" y2="3"/><line x1="14.5" y1="-3" x2="14" y2="3"/><line x1="16.5" y1="-3" x2="16" y2="3"/></g></g>
<ellipse cx="174.6" cy="173.7" rx="6.4" ry="7.4" transform="rotate(12 174.6 173.7)" fill="#fff" stroke="#111" stroke-width="1.6" />
<path d="M170.5,172 L173.5,169.6 L176.6,171.2 L177,175.6 L174,178 L170.8,176.3 Z" fill="none" stroke="#111" stroke-width="1.3"/>
<ellipse cx="173.8" cy="173.9" rx="1.4" ry="1.8" transform="rotate(0 173.8 173.9)" fill="#111" />
<path d="M267.02,120.05 L267.07,118.92 L267.16,117.79 L267.30,116.67 L267.50,115.56 L267.74,114.47 L268.03,113.39 L268.37,112.35 L268.76,111.33 L269.19,110.36 L269.66,109.42 L270.17,108.53 L270.71,107.70 L271.29,106.91 L271.90,106.19 L272.54,105.52 L273.21,104.92 L273.90,104.39 L274.60,103.93 L275.32,103.55 L276.05,103.23 L290.85,97.53 L291.59,97.30 L292.34,97.14 L293.08,97.06 L293.82,97.06 L294.56,97.14 L295.29,97.29 L296.00,97.53 L296.69,97.84 L297.37,98.22 L298.02,98.68 L298.64,99.21 L299.24,99.80 L299.80,100.46 L300.32,101.19 L300.81,101.97 L301.26,102.81 L301.66,103.69 L302.02,104.63 L302.34,105.60 L302.60,106.61 L302.82,107.66 L302.99,108.73 L303.10,109.82 L303.16,110.93 L303.18,112.05 L303.13,113.18 L303.04,114.31 L302.90,115.43 L302.70,116.54 L302.46,117.63 L302.17,118.71 L301.83,119.75 L301.44,120.77 L301.01,121.74 L300.54,122.68 L300.03,123.57 L299.49,124.40 L298.91,125.19 L298.30,125.91 L297.66,126.58 L296.99,127.18 L296.30,127.71 L295.60,128.17 L294.88,128.55 L294.15,128.87 L279.35,134.57 L278.61,134.80 L277.86,134.96 L277.12,135.04 L276.38,135.04 L275.64,134.96 L274.91,134.81 L274.20,134.57 L273.51,134.26 L272.83,133.88 L272.18,133.42 L271.56,132.89 L270.96,132.30 L270.40,131.64 L269.88,130.91 L269.39,130.13 L268.94,129.29 L268.54,128.41 L268.18,127.47 L267.86,126.50 L267.60,125.49 L267.38,124.44 L267.21,123.37 L267.10,122.28 L267.04,121.17 Z" fill="#fff" stroke="#111" stroke-width="1.4" stroke-linejoin="round"/>
<path d="M289.47,98.45 L290.03,98.46 L290.58,98.51 L291.13,98.61 L291.68,98.75 L292.21,98.93 L292.74,99.16 L293.25,99.43 L293.75,99.74 L294.24,100.09 L294.71,100.49 L295.17,100.92 L295.61,101.39 L296.03,101.90 L296.43,102.44 L296.80,103.02 L297.16,103.63 L297.49,104.26 L297.80,104.93 L298.08,105.62 L298.33,106.34 L298.56,107.09 L298.76,107.85 L298.94,108.63 L299.08,109.43 L299.20,110.24 L299.29,111.06 L299.34,111.90 L299.37,112.74 L299.37,113.58 L299.34,114.43 L299.28,115.28 L299.19,116.13 L299.08,116.98 L298.93,117.81 L298.75,118.64 L298.55,119.46 L298.32,120.26 L298.06,121.05 L297.78,121.82 L297.47,122.57 L297.14,123.30 L296.78,124.00 L296.41,124.68 L296.01,125.33 L295.59,125.95 L295.15,126.54 L294.69,127.09 L294.22,127.61 L293.73,128.10 L293.23,128.55 L292.71,128.96 L292.18,129.33 L291.65,129.65 L291.10,129.94 L290.55,130.18 L290.00,130.39 L289.44,130.54 L288.88,130.66 L288.32,130.73 L287.75,130.75 L287.20,130.73 L286.64,130.66 L286.09,130.55" fill="none" stroke="#111" stroke-width="1.1"/>
<line x1="290.76" y1="98.54" x2="294.56" y2="97.14" stroke="#111" stroke-width="1.6"/>
<line x1="292.89" y1="99.24" x2="296.69" y2="97.84" stroke="#111" stroke-width="1.6"/>
<line x1="294.84" y1="100.61" x2="298.64" y2="99.21" stroke="#111" stroke-width="1.6"/>
<line x1="296.52" y1="102.59" x2="300.32" y2="101.19" stroke="#111" stroke-width="1.6"/>
<line x1="297.86" y1="105.09" x2="301.66" y2="103.69" stroke="#111" stroke-width="1.6"/>
<line x1="298.80" y1="108.01" x2="302.60" y2="106.61" stroke="#111" stroke-width="1.6"/>
<line x1="299.30" y1="111.22" x2="303.10" y2="109.82" stroke="#111" stroke-width="1.6"/>
<line x1="299.33" y1="114.58" x2="303.13" y2="113.18" stroke="#111" stroke-width="1.6"/>
<line x1="298.90" y1="117.94" x2="302.70" y2="116.54" stroke="#111" stroke-width="1.6"/>
<line x1="298.03" y1="121.15" x2="301.83" y2="119.75" stroke="#111" stroke-width="1.6"/>
<line x1="296.74" y1="124.08" x2="300.54" y2="122.68" stroke="#111" stroke-width="1.6"/>
<line x1="295.11" y1="126.59" x2="298.91" y2="125.19" stroke="#111" stroke-width="1.6"/>
<line x1="293.19" y1="128.58" x2="296.99" y2="127.18" stroke="#111" stroke-width="1.6"/>
<line x1="291.08" y1="129.95" x2="294.88" y2="128.55" stroke="#111" stroke-width="1.6"/>
<line x1="288.86" y1="130.66" x2="292.66" y2="129.26" stroke="#111" stroke-width="1.6"/>
<path d="M281,104.5 L287,102 L287.5,107 L281.5,109.5 Z" fill="#fff" stroke="#111" stroke-width="1"/>
<path d="M290.5,121 L296.5,119 L297,125.5 L291,127.5 Z" fill="#fff" stroke="#111" stroke-width="1"/>
<ellipse cx="277.7" cy="118.9" rx="10.6" ry="16.2" transform="rotate(6 277.7 118.9)" fill="#fff" stroke="#111" stroke-width="1.5" />
<ellipse cx="277.3" cy="119.2" rx="8.6" ry="13.899999999999999" transform="rotate(6 277.3 119.2)" fill="none" stroke="#111" stroke-width="0.7" stroke-dasharray="3 2"/>
<ellipse cx="276.7" cy="120.2" rx="5.4" ry="7.6" transform="rotate(6 276.7 120.2)" fill="#fff" stroke="#111" stroke-width="1.3" />
<ellipse cx="276.9" cy="120" rx="2.6" ry="4" transform="rotate(6 276.9 120)" fill="none" stroke="#111" stroke-width="1.1" />
<ellipse cx="244.7" cy="136.2" rx="7.2" ry="8" transform="rotate(15 244.7 136.2)" fill="#111" stroke="#111" stroke-width="0" />
<ellipse cx="245.4" cy="136.6" rx="2.2" ry="4.6" transform="rotate(25 245.4 136.6)" fill="#fff" />
<ellipse cx="243" cy="134.5" rx="5.8" ry="6.6" transform="rotate(15 243 134.5)" fill="none" stroke="#fff" stroke-width="0.6" />
<ellipse cx="259.8" cy="127.2" rx="6.1" ry="7.2" transform="rotate(15 259.8 127.2)" fill="#111" stroke="#111" stroke-width="0" />
<ellipse cx="259.3" cy="126.6" rx="4.2" ry="5.2" transform="rotate(15 259.3 126.6)" fill="#fff" stroke="#111" stroke-width="0.8" />
<ellipse cx="259.6" cy="127" rx="2" ry="2.8" transform="rotate(0 259.6 127)" fill="#111" stroke="#111" stroke-width="0" />
<ellipse cx="240.75" cy="212.4" rx="11.9" ry="16.2" transform="rotate(-30 240.75 212.4)" fill="#111" stroke="#111" stroke-width="0.8" />
<circle cx="241.03" cy="198.88" r="0.8" fill="#fff"/>
<circle cx="243.95" cy="200.30" r="0.8" fill="#fff"/>
<circle cx="246.67" cy="202.45" r="0.8" fill="#fff"/>
<circle cx="249.05" cy="205.18" r="0.8" fill="#fff"/>
<circle cx="250.93" cy="208.35" r="0.8" fill="#fff"/>
<circle cx="252.20" cy="211.75" r="0.8" fill="#fff"/>
<circle cx="252.80" cy="215.19" r="0.8" fill="#fff"/>
<circle cx="252.68" cy="218.47" r="0.8" fill="#fff"/>
<ellipse cx="240.25" cy="212.6" rx="8.4" ry="12.3" transform="rotate(-30 240.25 212.6)" fill="none" stroke="#fff" stroke-width="0.9" />
<ellipse cx="240.95" cy="212.70000000000002" rx="4.7" ry="6.5" transform="rotate(-30 240.95 212.70000000000002)" fill="#fff" />
<path d="M243.78,206.12 L244.14,206.41 L244.49,206.72 L244.84,207.05 L245.17,207.40 L245.50,207.76 L245.81,208.14 L246.11,208.53 L246.39,208.94 L246.66,209.35 L246.91,209.78 L247.15,210.21 L247.37,210.66 L247.57,211.11 L247.75,211.56 L247.92,212.02 L248.06,212.49 L248.19,212.95 L248.30,213.41 L248.38,213.88 L248.45,214.34 L248.49,214.79 L248.51,215.24 L248.52,215.69 L248.50,216.13 L248.46,216.56 L248.40,216.97 L248.32,217.38 L248.22,217.78 L248.10,218.16 L247.96,218.52 L247.80,218.87 L247.62,219.21 L247.42,219.52 L247.20,219.82 L246.97,220.10 L246.72,220.36" fill="none" stroke="#fff" stroke-width="0.8"/>
<ellipse cx="222.5" cy="222.4" rx="6.4" ry="8.4" transform="rotate(-25 222.5 222.4)" fill="none" stroke="#111" stroke-width="1.9" />
<ellipse cx="207.1" cy="229.6" rx="6.0" ry="8.1" transform="rotate(-25 207.1 229.6)" fill="none" stroke="#111" stroke-width="2.1" />
<ellipse cx="271.2" cy="185.6" rx="2.6" ry="1.5" transform="rotate(-20 271.2 185.6)" fill="#fff" stroke="#111" stroke-width="1.0" />
<path d="M291.10,177.59 L291.83,178.07 L292.53,178.62 L293.20,179.22 L293.84,179.87 L294.44,180.57 L295.00,181.30 L295.50,182.08 L295.96,182.88 L296.36,183.72 L296.71,184.56 L296.99,185.43 L297.22,186.30 L297.38,187.17 L297.47,188.03 L297.50,188.89 L297.47,189.72 L297.37,190.53 L297.21,191.32 L296.98,192.06 L296.69,192.77 L296.34,193.43 L295.94,194.05 L295.48,194.60 L294.97,195.10 L294.41,195.54 L293.81,195.92 L293.17,196.22 L292.49,196.46 L291.79,196.62 L291.06,196.71 L290.31,196.73 L289.55,196.68 L288.78,196.55 L288.00,196.35 L287.23,196.08 L286.46,195.74 L285.71,195.34 L284.98,194.87 L284.26,194.34 L283.58,193.76 L282.93,193.12 L282.32,192.44 L281.76,191.71 L281.23,190.94 L280.76,190.15 L280.34,189.32 L279.98,188.48 L279.68,187.62 L279.44,186.75 L279.26,185.88 L279.15,185.01 L279.10,184.15 L279.11,183.31 L279.19,182.49 L279.34,181.70 L279.55,180.94 L279.82,180.22 L280.15,179.55 L280.54,178.92 L280.99,178.35 L281.48,177.83 L282.03,177.37 L282.62,176.98 L283.25,176.66" fill="none" stroke="#111" stroke-width="3.0" stroke-linecap="butt"/>
<path d="M291.10,177.59 L291.83,178.07 L292.53,178.62 L293.20,179.22 L293.84,179.87 L294.44,180.57 L295.00,181.30 L295.50,182.08 L295.96,182.88 L296.36,183.72 L296.71,184.56 L296.99,185.43 L297.22,186.30 L297.38,187.17 L297.47,188.03 L297.50,188.89 L297.47,189.72 L297.37,190.53 L297.21,191.32 L296.98,192.06 L296.69,192.77 L296.34,193.43 L295.94,194.05 L295.48,194.60 L294.97,195.10 L294.41,195.54 L293.81,195.92 L293.17,196.22 L292.49,196.46 L291.79,196.62 L291.06,196.71 L290.31,196.73 L289.55,196.68 L288.78,196.55 L288.00,196.35 L287.23,196.08 L286.46,195.74 L285.71,195.34 L284.98,194.87 L284.26,194.34 L283.58,193.76 L282.93,193.12 L282.32,192.44 L281.76,191.71 L281.23,190.94 L280.76,190.15 L280.34,189.32 L279.98,188.48 L279.68,187.62 L279.44,186.75 L279.26,185.88 L279.15,185.01 L279.10,184.15 L279.11,183.31 L279.19,182.49 L279.34,181.70 L279.55,180.94 L279.82,180.22 L280.15,179.55 L280.54,178.92 L280.99,178.35 L281.48,177.83 L282.03,177.37 L282.62,176.98 L283.25,176.66" fill="none" stroke="#fff" stroke-width="0.9"/>
<path d="M281.12,178.20 L281.43,177.88 L281.76,177.59 L282.11,177.32 L282.47,177.07 L282.85,176.85 L283.25,176.66" fill="none" stroke="#111" stroke-width="3.6"/>
<path d="M291.10,177.59 L291.55,177.88 L292.00,178.20 L292.44,178.54 L292.86,178.90" fill="none" stroke="#111" stroke-width="3.4"/>
<path d="M351.9,186.3 L351.9,196.9 A7.4,3.3 0 0 0 366.7,196.9 L366.7,186.3" fill="#fff" stroke="#111" stroke-width="1.3"/>
<ellipse cx="359.3" cy="186.3" rx="7.4" ry="4.2" transform="rotate(0 359.3 186.3)" fill="#fff" stroke="#111" stroke-width="1.3" />
<path d="M354,187 Q359.3,190 364.6,187" fill="none" stroke="#111" stroke-width="0.8"/>
<ellipse cx="360.6" cy="205.3" rx="2.9" ry="2.6" transform="rotate(0 360.6 205.3)" fill="#111" stroke="#111" stroke-width="0" />
<ellipse cx="360.1" cy="204.6" rx="1.0" ry="0.8" transform="rotate(0 360.1 204.6)" fill="#fff" />
<ellipse cx="361.3" cy="214" rx="7.3" ry="3.7" transform="rotate(0 361.3 214)" fill="#fff" stroke="#111" stroke-width="1.5" />
<path d="M356.5,213.4 Q361.3,209.8 366,213.4 Q361.3,217.5 356.5,213.4 Z" fill="#111"/>
<ellipse cx="361.3" cy="213.6" rx="2.2" ry="1.1" transform="rotate(0 361.3 213.6)" fill="#fff" />
<path d="M356.5,223.5 C356.5,219.5 370.6,219.5 370.6,223.5 L372.5,241.5 C372.5,246 358.8,246 358.8,241.5 Z" fill="#111"/>
<path d="M358.00,226.5 Q364.00,228.3 370.50,226.5" fill="none" stroke="#fff" stroke-width="1.0"/>
<path d="M358.45,230.5 Q364.45,232.3 370.95,230.5" fill="none" stroke="#fff" stroke-width="1.0"/>
<path d="M358.90,234.5 Q364.90,236.3 371.40,234.5" fill="none" stroke="#fff" stroke-width="1.0"/>
<path d="M359.35,238.5 Q365.35,240.3 371.85,238.5" fill="none" stroke="#fff" stroke-width="1.0"/>
<ellipse cx="367.2" cy="250.4" rx="7.0" ry="3.3" transform="rotate(0 367.2 250.4)" fill="#fff" stroke="#111" stroke-width="2.2" />
<ellipse cx="367.2" cy="250.4" rx="4.2" ry="1.5" transform="rotate(0 367.2 250.4)" fill="none" stroke="#111" stroke-width="0.8" />
<path d="M364,259.5 C364,255 371.8,255 371.8,259.5 C371.8,263.8 364,263.8 364,259.5 Z" fill="#fff" stroke="#111" stroke-width="1.2"/>
<path d="M364.2,259 C364.2,255.3 371.6,255.3 371.6,259 C369,260 366.8,260 364.2,259 Z" fill="#111"/>
<path d="M367.8,266.5 L371.6,306 M370.6,266.5 L374.6,306" fill="none" stroke="#111" stroke-width="1.1"/>
<ellipse cx="369.2" cy="266.8" rx="1.5" ry="1.0" transform="rotate(0 369.2 266.8)" fill="#111" stroke="#111" stroke-width="0" />
<path d="M371.3,305 C370,307.5 367.5,308 366.5,308.5 M375,305 C376.5,307.5 379,308 380.5,308.5" fill="none" stroke="#111" stroke-width="1.1"/>
<ellipse cx="373.7" cy="310.8" rx="7.6" ry="3.3" transform="rotate(3 373.7 310.8)" fill="#fff" stroke="#111" stroke-width="1.3" />
<path d="M422.4,180.2 L422.6,191.2 A8,4 0 0 0 438.6,191.2 L438.8,180.2" fill="#fff" stroke="#111" stroke-width="1.3"/>
<ellipse cx="430.6" cy="180.2" rx="8.2" ry="4.4" transform="rotate(0 430.6 180.2)" fill="#fff" stroke="#111" stroke-width="1.3" />
<path d="M424.5,182.5 Q430.6,186 436.7,182.5" fill="none" stroke="#111" stroke-width="0.8"/>
<ellipse cx="426.9" cy="202.3" rx="2.9" ry="2.6" transform="rotate(0 426.9 202.3)" fill="#111" stroke="#111" stroke-width="0" />
<ellipse cx="425" cy="212.8" rx="7.2" ry="3.9" transform="rotate(0 425 212.8)" fill="#fff" stroke="#111" stroke-width="1.5" />
<path d="M420.5,212.3 Q425,209.6 429.5,212.3 Q425,215.2 420.5,212.3 Z" fill="#fff" stroke="#111" stroke-width="1.1"/>
<path d="M415.5,223 C415.5,218.5 429.5,218.5 429.5,223 L427,240.5 C427,245.5 412.5,245.5 412.5,240.5 Z" fill="#111"/>
<path d="M420.00,227.5 L424.00,227.5" stroke="#fff" stroke-width="0.9"/>
<path d="M419.20,234 L423.20,234" stroke="#fff" stroke-width="0.9"/>
<path d="M418.40,240 L422.40,240" stroke="#fff" stroke-width="0.9"/>
<ellipse cx="416.3" cy="251.2" rx="7.0" ry="3.7" transform="rotate(0 416.3 251.2)" fill="#fff" stroke="#111" stroke-width="2.2" />
<ellipse cx="416.3" cy="251.2" rx="4.2" ry="1.8" transform="rotate(0 416.3 251.2)" fill="none" stroke="#111" stroke-width="0.8" />
<path d="M411,261 C411,257 419.5,257 419.5,261 C419.5,265 411,265 411,261 Z" fill="#fff" stroke="#111" stroke-width="1.3"/>
<path d="M411.3,260.5 C411.3,257.3 419.2,257.3 419.2,260.5 C416.5,261.5 414,261.5 411.3,260.5 Z" fill="#111"/>
<path d="M411.8,267.5 L405.6,300.5 M414.6,267.5 L408.4,300.5" fill="none" stroke="#111" stroke-width="1.1"/>
<path d="M412.1,268 L414.3,268 L413.8,272 L411.5,272 Z" fill="#111"/>
<path d="M405.6,299.5 C404.8,301.5 402,302.5 400.5,303 M408.4,299.5 C408.8,301.5 410.5,302.5 411.5,303" fill="none" stroke="#111" stroke-width="1.1"/>
<ellipse cx="405.6" cy="305.2" rx="6.5" ry="3.8" transform="rotate(-5 405.6 305.2)" fill="#fff" stroke="#111" stroke-width="1.3" />
<path d="M268.8,309 L269.5,296 L272,285 L277,277.5 L285,272.5 L292.5,270.6 L302.5,271.9 L312.5,278.5 L320.5,289 L326.2,300 L329.4,311.3 L330,325 L326.5,337 L318,351 L309,362.5 L304.6,371 L303.2,378.8 L306.2,388.8 L312.5,403 L318.8,420 L325,437 L330,452 L330.3,460 L326,466 L318.3,469.2 L310,467 L290,459 L270,448.5 L264,443 L262.5,434 L266,427 L271.9,420 L280,408.5 L284.4,398 L284.2,390 L281.5,374 L278.1,360 L274.7,340 L271.3,323 Z M282.5,281 L286,277.5 L291,279.5 L301,285.5 L306.5,291.5 L312.5,302.5 L317.3,313.8 L318.8,325 L317.5,333 L312,345 L304,357 L296.7,366.7 L293.8,376 L293.5,385 L292.6,375 L289.5,358 L286.3,340 L284,318 L282.6,298 Z M295.5,395.5 L291.5,403 L285,412.5 L278.8,420 L275,425.5 L273.4,432.5 L276.8,440 L290,447 L318.3,459.5 L316.5,452 L311,437 L306.3,420 L301,408 L297.5,400 Z" fill="#fff" fill-rule="evenodd" stroke="#111" stroke-width="1.3" stroke-linejoin="round"/>
<path d="M271,318 L270.8,300 L272.8,288.5 L277,281 L283.5,276.5 L289.5,276" fill="none" stroke="#111" stroke-width="0.9"/>
<path d="M272.6,309 L276.5,340 L280,360 L283.3,375 L286,390 L286,398 L282,408 L274.5,419.5 L266.5,430 L265,436 L267.5,442.5 L274,447 L292,455.5 L316,465.5 L323,466.5 L328,461" fill="none" stroke="#111" stroke-width="0.9"/>
<path d="M274,320 L277.5,345 L281,365 L284,382" fill="none" stroke="#111" stroke-width="1.2" stroke-dasharray="2.5 2"/>
<path d="M271.5,299 L272,288 L276,280.5 L282.5,277 L285.5,278.5 L283.5,286 L283.2,301 Z" fill="#111"/>
<path d="M271.8,286.5 L283.3,281.7" stroke="#fff" stroke-width="1.6"/>
<path d="M271.8,291.1 L283.3,286.3" stroke="#fff" stroke-width="1.6"/>
<path d="M271.8,295.7 L283.3,290.9" stroke="#fff" stroke-width="1.6"/>
<path d="M271.8,300.3 L283.3,295.5" stroke="#fff" stroke-width="1.6"/>
<path d="M288,276.5 L300,282.5 L306,288" fill="none" stroke="#111" stroke-width="1.6" stroke-dasharray="1.2 0.8"/>
<path d="M309,297 L313.6,305.5 L317.3,314 L318.8,325 L317.5,333 L312,345 L304,357" fill="none" stroke="#fff" stroke-width="1.8" stroke-dasharray="2.5 4" stroke-dashoffset="1"/>
<path d="M300,404 L306,418 L312,436 L317,452" fill="none" stroke="#111" stroke-width="1.5" stroke-dasharray="3 1.5"/>
<path d="M297,395 L303,406 L309,424 L314,440 L318,453" fill="none" stroke="#111" stroke-width="0.8"/>
<rect x="233.7" y="333.6" width="24.8" height="26" fill="#fff" stroke="#111" stroke-width="1.1"/>
<path d="M236.3,335.6 H256 M236.3,337.8 H256 M236.3,340.2 H247.5" stroke="#111" stroke-width="0.9"/>
<rect x="235.6" y="343.8" width="21" height="4.300000000000011" fill="#fff" stroke="#111" stroke-width="1.0"/>
<line x1="235.6" y1="344.2" x2="256.6" y2="344.2" stroke="#111" stroke-width="0.8"/>
<rect x="235.6" y="349.6" width="21" height="4.399999999999977" fill="#fff" stroke="#111" stroke-width="1.0"/>
<line x1="235.6" y1="350.0" x2="256.6" y2="350.0" stroke="#111" stroke-width="0.8"/>
<rect x="235.6" y="354.7" width="21" height="3.900000000000034" fill="#fff" stroke="#111" stroke-width="1.0"/>
<line x1="235.6" y1="355.09999999999997" x2="256.6" y2="355.09999999999997" stroke="#111" stroke-width="0.8"/>
<path d="M347.72,356.73 L347.73,355.76 L347.81,354.79 L347.94,353.81 L348.13,352.84 L348.37,351.87 L348.67,350.91 L349.02,349.97 L349.42,349.05 L349.88,348.15 L350.37,347.28 L350.92,346.45 L351.50,345.66 L352.12,344.90 L352.78,344.19 L353.47,343.53 L354.19,342.93 L354.94,342.38 L355.71,341.88 L356.50,341.45 L357.30,341.07 L368.30,336.07 L369.11,335.76 L369.93,335.52 L370.76,335.34 L371.58,335.24 L372.39,335.19 L373.20,335.22 L373.99,335.32 L374.77,335.48 L375.53,335.71 L376.26,336.00 L376.96,336.36 L377.63,336.79 L378.27,337.27 L378.87,337.81 L379.43,338.41 L379.94,339.06 L380.41,339.75 L380.83,340.50 L381.20,341.29 L381.52,342.11 L381.78,342.97 L381.99,343.86 L382.15,344.78 L382.24,345.71 L382.28,346.67 L382.27,347.64 L382.19,348.61 L382.06,349.59 L381.87,350.56 L381.63,351.53 L381.33,352.49 L380.98,353.43 L380.58,354.35 L380.12,355.25 L379.63,356.12 L379.08,356.95 L378.50,357.74 L377.88,358.50 L377.22,359.21 L376.53,359.87 L375.81,360.47 L375.06,361.02 L374.29,361.52 L373.50,361.95 L372.70,362.33 L361.70,367.33 L360.89,367.64 L360.07,367.88 L359.24,368.06 L358.42,368.16 L357.61,368.21 L356.80,368.18 L356.01,368.08 L355.23,367.92 L354.47,367.69 L353.74,367.40 L353.04,367.04 L352.37,366.61 L351.73,366.13 L351.13,365.59 L350.57,364.99 L350.06,364.34 L349.59,363.65 L349.17,362.90 L348.80,362.11 L348.48,361.29 L348.22,360.43 L348.01,359.54 L347.85,358.62 L347.76,357.69 Z" fill="#fff" stroke="#111" stroke-width="1.4" stroke-linejoin="round"/>
<path d="M368.99,337.72 L369.58,337.83 L370.16,337.99 L370.72,338.18 L371.27,338.41 L371.80,338.68 L372.32,338.98 L372.81,339.32 L373.29,339.69 L373.74,340.09 L374.18,340.53 L374.58,340.99 L374.97,341.49 L375.32,342.01 L375.65,342.57 L375.95,343.14 L376.22,343.74 L376.47,344.36 L376.68,345.00 L376.86,345.66 L377.01,346.34 L377.13,347.03 L377.21,347.73 L377.26,348.45 L377.28,349.17 L377.27,349.90 L377.23,350.63 L377.15,351.37 L377.04,352.11 L376.90,352.84 L376.72,353.58 L376.52,354.30 L376.28,355.02 L376.02,355.73 L375.72,356.43 L375.40,357.12 L375.05,357.79 L374.67,358.44 L374.27,359.07 L373.85,359.69 L373.40,360.28 L372.92,360.84 L372.43,361.38 L371.92,361.90 L371.39,362.38 L370.85,362.84 L370.29,363.26 L369.71,363.66 L369.13,364.01 L368.53,364.34 L367.93,364.63 L367.32,364.88 L366.70,365.10 L366.08,365.27 L365.46,365.42 L364.84,365.52 L364.23,365.58 L363.61,365.61 L363.00,365.59" fill="none" stroke="#111" stroke-width="1.1"/>
<ellipse cx="359.5" cy="354.2" rx="11.3" ry="14.4" transform="rotate(22 359.5 354.2)" fill="#fff" stroke="#111" stroke-width="1.5" />
<ellipse cx="359.9" cy="354.09999999999997" rx="9.700000000000001" ry="12.6" transform="rotate(22 359.9 354.09999999999997)" fill="none" stroke="#111" stroke-width="0.8" />
<ellipse cx="363" cy="353.2" rx="6.6" ry="10.2" transform="rotate(30 363 353.2)" fill="#111" />
<ellipse cx="363.2" cy="353.1" rx="5.0" ry="8.4" transform="rotate(30 363.2 353.1)" fill="#fff" />
<ellipse cx="363.3" cy="353.1" rx="4.2" ry="5.6" transform="rotate(20 363.3 353.1)" fill="none" stroke="#111" stroke-width="1.6" />
<ellipse cx="363.4" cy="353.1" rx="2.2" ry="2.8" transform="rotate(20 363.4 353.1)" fill="#fff" stroke="#111" stroke-width="1.0" />
<ellipse cx="363.4" cy="353.1" rx="0.9" ry="1.1" transform="rotate(0 363.4 353.1)" fill="#111" />
<g transform="translate(328.2 371.9) rotate(-28)"><rect x="3" y="-2.6" width="7" height="5.2" fill="#fff" stroke="#111" stroke-width="1.1"/><rect x="8.5" y="-2.8" width="9" height="5.6" fill="#111"/><g stroke="#fff" stroke-width="0.55"><line x1="10.5" y1="-2.8" x2="10" y2="2.8"/><line x1="12.5" y1="-2.8" x2="12" y2="2.8"/><line x1="14.5" y1="-2.8" x2="14" y2="2.8"/></g></g>
<ellipse cx="328.2" cy="372" rx="5" ry="5.6" transform="rotate(10 328.2 372)" fill="#fff" stroke="#111" stroke-width="1.6" />
<path d="M325.3,370 L328,368.5 L331,370.1 L331.2,373.7 L328.4,375.3 L325.5,373.7 Z" fill="none" stroke="#111" stroke-width="1.1"/>
<path d="M352.09,421.79 L352.09,420.79 L352.15,419.77 L352.27,418.76 L352.45,417.75 L352.69,416.74 L352.98,415.75 L353.32,414.78 L353.72,413.83 L354.17,412.91 L354.67,412.02 L355.22,411.16 L355.81,410.34 L356.44,409.57 L357.11,408.85 L357.81,408.18 L358.54,407.56 L359.30,407.00 L371.10,399.20 L371.89,398.70 L372.69,398.26 L373.52,397.89 L374.35,397.59 L375.19,397.35 L376.04,397.18 L376.88,397.09 L377.72,397.06 L378.56,397.11 L379.38,397.22 L380.18,397.41 L380.96,397.66 L381.72,397.98 L382.45,398.37 L383.15,398.82 L383.82,399.34 L384.44,399.92 L385.03,400.55 L385.57,401.23 L386.07,401.97 L386.51,402.75 L386.91,403.58 L387.25,404.45 L387.54,405.35 L387.77,406.28 L387.94,407.23 L388.06,408.21 L388.11,409.21 L388.11,410.21 L388.05,411.23 L387.93,412.24 L387.75,413.25 L387.51,414.26 L387.22,415.25 L386.88,416.22 L386.48,417.17 L386.03,418.09 L385.53,418.98 L384.98,419.84 L384.39,420.66 L383.76,421.43 L383.09,422.15 L382.39,422.82 L381.66,423.44 L380.90,424.00 L369.10,431.80 L368.31,432.30 L367.51,432.74 L366.68,433.11 L365.85,433.41 L365.01,433.65 L364.16,433.82 L363.32,433.91 L362.48,433.94 L361.64,433.89 L360.82,433.78 L360.02,433.59 L359.24,433.34 L358.48,433.02 L357.75,432.63 L357.05,432.18 L356.38,431.66 L355.76,431.08 L355.17,430.45 L354.63,429.77 L354.13,429.03 L353.69,428.25 L353.29,427.42 L352.95,426.55 L352.66,425.65 L352.43,424.72 L352.26,423.77 L352.14,422.79 Z" fill="#fff" stroke="#111" stroke-width="1.4" stroke-linejoin="round"/>
<line x1="356.77" y1="409.20" x2="368.57" y2="401.40" stroke="#111" stroke-width="2.2"/>
<line x1="358.73" y1="407.41" x2="370.53" y2="399.61" stroke="#111" stroke-width="2.2"/>
<line x1="360.89" y1="406.06" x2="372.69" y2="398.26" stroke="#111" stroke-width="2.2"/>
<line x1="363.18" y1="405.20" x2="374.98" y2="397.40" stroke="#111" stroke-width="2.2"/>
<line x1="365.50" y1="404.86" x2="377.30" y2="397.06" stroke="#111" stroke-width="2.2"/>
<line x1="367.78" y1="405.06" x2="379.58" y2="397.26" stroke="#111" stroke-width="2.2"/>
<line x1="369.92" y1="405.78" x2="381.72" y2="397.98" stroke="#111" stroke-width="2.2"/>
<line x1="371.85" y1="407.01" x2="383.65" y2="399.21" stroke="#111" stroke-width="2.2"/>
<line x1="373.51" y1="408.68" x2="385.31" y2="400.88" stroke="#111" stroke-width="2.2"/>
<line x1="374.82" y1="410.76" x2="386.62" y2="402.96" stroke="#111" stroke-width="2.2"/>
<path d="M367.02,403.36 L367.46,402.74 L367.93,402.14 L368.41,401.57 L368.92,401.03 L369.45,400.52 L370.00,400.04 L370.56,399.59 L371.14,399.17 L371.73,398.79 L372.34,398.45 L372.95,398.14 L373.57,397.87 L374.20,397.64 L374.84,397.44 L375.48,397.29 L376.12,397.17 L376.75,397.10 L377.39,397.06 L378.02,397.07 L378.65,397.11 L379.27,397.20 L379.88,397.33 L380.48,397.50 L381.07,397.70 L381.64,397.95 L382.20,398.23 L382.74,398.55 L383.26,398.90 L383.76,399.30 L384.24,399.72 L384.70,400.18 L385.13,400.67 L385.54,401.19 L385.92,401.74 L386.28,402.32 L386.60,402.92 L386.90,403.55 L387.16,404.20 L387.39,404.87 L387.60,405.56 L387.77,406.27 L387.90,406.99 L388.01,407.72" fill="none" stroke="#111" stroke-width="1.3"/>
<path d="M386.51,408.72 L386.58,409.46 L386.61,410.21 L386.62,410.96 L386.59,411.72 L386.52,412.48 L386.43,413.24 L386.30,414.00 L386.14,414.76 L385.95,415.50 L385.72,416.25 L385.47,416.98 L385.18,417.70 L384.87,418.40 L384.53,419.09 L384.16,419.77 L383.76,420.42 L383.34,421.05 L382.89,421.66 L382.42,422.24 L381.93,422.80 L381.42,423.32 L380.89,423.82 L380.34,424.29 L379.78,424.73 L379.20,425.13 L378.61,425.50 L378.01,425.83 L377.40,426.13 L376.78,426.39 L376.15,426.61" fill="none" stroke="#111" stroke-width="1.1" stroke-dasharray="2 1.5"/>
<ellipse cx="364.2" cy="419.4" rx="11.8" ry="14.8" transform="rotate(18 364.2 419.4)" fill="#fff" stroke="#111" stroke-width="1.5" stroke-dasharray="5 1.2"/>
<ellipse cx="364.7" cy="419.4" rx="10.0" ry="12.8" transform="rotate(18 364.7 419.4)" fill="none" stroke="#111" stroke-width="0.9" />
<ellipse cx="359.6" cy="414.5" rx="2.1" ry="2.3" transform="rotate(0 359.6 414.5)" fill="#fff" stroke="#111" stroke-width="1.2" />
<ellipse cx="366.4" cy="417.6" rx="2.1" ry="2.3" transform="rotate(0 366.4 417.6)" fill="#fff" stroke="#111" stroke-width="1.2" />
<ellipse cx="365.8" cy="424.4" rx="2.1" ry="2.3" transform="rotate(0 365.8 424.4)" fill="#fff" stroke="#111" stroke-width="1.2" />
<ellipse cx="371.6" cy="421.2" rx="2.1" ry="2.3" transform="rotate(0 371.6 421.2)" fill="#fff" stroke="#111" stroke-width="1.2" />
<path d="M341.3,427 L344.6,424.9 L348.4,426.5 L349,431 L345.7,433.6 L341.8,431.8 Z" fill="#fff" stroke="#111" stroke-width="1.5" stroke-linejoin="round"/>
<ellipse cx="345.2" cy="429.3" rx="1.9" ry="2.1" transform="rotate(0 345.2 429.3)" fill="none" stroke="#111" stroke-width="1.0" />
<path d="M215.39,405.17 L215.42,404.15 L215.50,403.13 L215.64,402.11 L215.83,401.10 L216.07,400.09 L216.36,399.10 L216.70,398.13 L217.08,397.19 L217.51,396.28 L217.98,395.40 L218.49,394.56 L219.04,393.76 L219.62,393.01 L220.24,392.31 L220.88,391.66 L221.55,391.07 L222.24,390.54 L222.95,390.07 L223.68,389.66 L224.42,389.32 L225.17,389.05 L238.97,385.15 L239.72,384.95 L240.48,384.82 L241.23,384.76 L241.98,384.77 L242.71,384.86 L243.44,385.01 L244.14,385.23 L244.83,385.53 L245.49,385.89 L246.13,386.31 L246.74,386.80 L247.31,387.35 L247.85,387.96 L248.35,388.63 L248.81,389.35 L249.22,390.12 L249.60,390.93 L249.92,391.78 L250.20,392.67 L250.42,393.60 L250.60,394.55 L250.72,395.53 L250.80,396.52 L250.81,397.53 L250.78,398.55 L250.70,399.57 L250.56,400.59 L250.37,401.60 L250.13,402.61 L249.84,403.60 L249.50,404.57 L249.12,405.51 L248.69,406.42 L248.22,407.30 L247.71,408.14 L247.16,408.94 L246.58,409.69 L245.96,410.39 L245.32,411.04 L244.65,411.63 L243.96,412.16 L243.25,412.63 L242.52,413.04 L241.78,413.38 L241.03,413.65 L227.23,417.55 L226.48,417.75 L225.72,417.88 L224.97,417.94 L224.22,417.93 L223.49,417.84 L222.76,417.69 L222.06,417.47 L221.37,417.17 L220.71,416.81 L220.07,416.39 L219.46,415.90 L218.89,415.35 L218.35,414.74 L217.85,414.07 L217.39,413.35 L216.98,412.58 L216.60,411.77 L216.28,410.92 L216.00,410.03 L215.78,409.10 L215.60,408.15 L215.48,407.17 L215.40,406.18 Z" fill="#fff" stroke="#111" stroke-width="1.4" stroke-linejoin="round"/>
<ellipse cx="247.9" cy="389.2" rx="2.1" ry="2.1" transform="rotate(0 247.9 389.2)" fill="#fff" stroke="#111" stroke-width="1.3" />
<ellipse cx="245.3" cy="413.6" rx="2.0" ry="2.0" transform="rotate(0 245.3 413.6)" fill="#fff" stroke="#111" stroke-width="1.3" />
<ellipse cx="226.2" cy="403.3" rx="10.6" ry="14.8" transform="rotate(12 226.2 403.3)" fill="#fff" stroke="#111" stroke-width="2.0" />
<ellipse cx="229.5" cy="402.3" rx="6.8" ry="12.2" transform="rotate(22 229.5 402.3)" fill="#fff" stroke="#111" stroke-width="1.6" />
<ellipse cx="225.3" cy="399.8" rx="2.8" ry="3.0" transform="rotate(0 225.3 399.8)" fill="#fff" stroke="#111" stroke-width="1.2" />
<ellipse cx="229.6" cy="407.2" rx="2.6" ry="2.8" transform="rotate(0 229.6 407.2)" fill="#fff" stroke="#111" stroke-width="1.2" />
<path d="M224.5,392 L229,394.5 M233,411 L236,407 M226,406 L224,409" stroke="#111" stroke-width="1.2"/>
<g transform="translate(183.5 423.3) rotate(-22)"><rect x="0" y="-2.3" width="15" height="4.6" fill="#fff" stroke="#111" stroke-width="1.1"/><rect x="-0.5" y="-2.4" width="3.6" height="4.8" rx="0.8" fill="#111"/><rect x="14.5" y="-3.4" width="6.2" height="6.8" rx="1.3" fill="#fff" stroke="#111" stroke-width="1.2"/><line x1="17.5" y1="-3.3" x2="17.5" y2="3.3" stroke="#111" stroke-width="0.8"/><rect x="20.5" y="-2.4" width="9.5" height="4.8" rx="0.8" fill="#111"/><g stroke="#666" stroke-width="0.5"><line x1="22.5" y1="-2.3" x2="22" y2="2.3"/><line x1="25" y1="-2.3" x2="24.5" y2="2.3"/><line x1="27.5" y1="-2.3" x2="27" y2="2.3"/></g></g>
<g opacity="0.999"><text transform="translate(356.60 43.80) scale(0.8 1)" x="0" y="0" font-size="9.0" textLength="30.12" lengthAdjust="spacing">13512</text>
<text transform="translate(432.80 78.30) scale(0.8 1)" x="0" y="0" font-size="9.0" textLength="29.12" lengthAdjust="spacing">13511</text>
<text transform="translate(211.50 71.50) scale(0.8 1)" x="0" y="0" font-size="9.0" textLength="29.50" lengthAdjust="spacing">04139</text>
<text transform="translate(176.50 100.20) scale(0.85 1)" x="0" y="0" font-size="7.5" textLength="54.94" lengthAdjust="spacing">90910–02138</text>
<text transform="translate(320.40 123.50) scale(0.8 1)" x="0" y="0" font-size="9.0" textLength="32.12" lengthAdjust="spacing">13050</text>
<text transform="translate(254.10 160.00) scale(0.85 1)" x="0" y="0" font-size="7.5" textLength="51.76" lengthAdjust="spacing">90170–37001</text>
<text transform="translate(188.80 191.30) scale(0.8 1)" x="0" y="0" font-size="9.0" textLength="37.00" lengthAdjust="spacing">13523P</text>
<text transform="translate(312.30 197.50) scale(0.8 1)" x="0" y="0" font-size="9.0" textLength="28.50" lengthAdjust="spacing">13579</text>
<text transform="translate(246.40 251.20) scale(0.8 1)" x="0" y="0" font-size="9.0" textLength="29.38" lengthAdjust="spacing">13529</text>
<text transform="translate(203.50 257.70) scale(0.85 1)" x="0" y="0" font-size="7.5" textLength="51.88" lengthAdjust="spacing">90206–42001</text>
<text transform="translate(170.00 265.60) scale(0.85 1)" x="0" y="0" font-size="7.5" textLength="53.29" lengthAdjust="spacing">90520–41004</text>
<text transform="translate(182.80 327.50) scale(0.8 1)" x="0" y="0" font-size="9.0" textLength="29.12" lengthAdjust="spacing">13568</text>
<text transform="translate(227.80 321.50) scale(0.85 1)" x="0" y="0" font-size="7.5" textLength="39.18" lengthAdjust="spacing">REFER TO</text>
<text transform="translate(227.80 328.20) scale(0.85 1)" x="0" y="0" font-size="7.5" textLength="43.88" lengthAdjust="spacing">FIG 17-09</text>
<text transform="translate(176.80 395.50) scale(0.8 1)" x="0" y="0" font-size="9.0" textLength="29.12" lengthAdjust="spacing">13540</text>
<text transform="translate(178.80 436.90) scale(0.85 1)" x="0" y="0" font-size="7.5" textLength="53.29" lengthAdjust="spacing">90901–07008</text>
<text transform="translate(322.80 289.50) scale(0.8 1)" x="0" y="0" font-size="9.0" textLength="29.12" lengthAdjust="spacing">13715</text>
<text transform="translate(315.80 264.20) scale(0.8 1)" x="0" y="0" font-size="9.0" textLength="33.50" lengthAdjust="spacing">13711A</text>
<text transform="translate(315.80 271.20) scale(0.85 1)" x="0" y="0" font-size="7.5" textLength="29.76" lengthAdjust="spacing">(NO. 1)</text>
<text transform="translate(320.30 253.50) scale(0.8 1)" x="0" y="0" font-size="9.0" textLength="28.50" lengthAdjust="spacing">13734</text>
<text transform="translate(313.50 231.00) scale(0.8 1)" x="0" y="0" font-size="9.0" textLength="36.25" lengthAdjust="spacing">13711B</text>
<text transform="translate(381.80 191.20) scale(0.8 1)" x="0" y="0" font-size="9.0" textLength="28.50" lengthAdjust="spacing">13751</text>
<text transform="translate(381.80 208.50) scale(0.8 1)" x="0" y="0" font-size="9.0" textLength="35.38" lengthAdjust="spacing">13741A</text>
<text transform="translate(381.80 216.20) scale(0.8 1)" x="0" y="0" font-size="9.0" textLength="28.50" lengthAdjust="spacing">13741</text>
<text transform="translate(450.80 188.80) scale(0.8 1)" x="0" y="0" font-size="9.0" textLength="28.50" lengthAdjust="spacing">13751</text>
<text transform="translate(450.80 205.00) scale(0.8 1)" x="0" y="0" font-size="9.0" textLength="35.00" lengthAdjust="spacing">13741A</text>
<text transform="translate(450.80 216.00) scale(0.8 1)" x="0" y="0" font-size="9.0" textLength="27.88" lengthAdjust="spacing">13741</text>
<text transform="translate(449.80 233.00) scale(0.8 1)" x="0" y="0" font-size="9.0" textLength="37.88" lengthAdjust="spacing">13711B</text>
<text transform="translate(440.50 255.00) scale(0.8 1)" x="0" y="0" font-size="9.0" textLength="29.12" lengthAdjust="spacing">13734</text>
<text transform="translate(436.00 265.00) scale(0.8 1)" x="0" y="0" font-size="9.0" textLength="35.62" lengthAdjust="spacing">13711A</text>
<text transform="translate(436.00 272.20) scale(0.85 1)" x="0" y="0" font-size="7.5" textLength="28.24" lengthAdjust="spacing">(NO. 2)</text>
<text transform="translate(439.30 290.50) scale(0.8 1)" x="0" y="0" font-size="9.0" textLength="27.62" lengthAdjust="spacing" style="fill:#0a640a;stroke:#0a640a">13711</text>
<text transform="translate(399.30 353.00) scale(0.8 1)" x="0" y="0" font-size="9.0" textLength="29.12" lengthAdjust="spacing">13502</text>
<text transform="translate(357.80 385.70) scale(0.85 1)" x="0" y="0" font-size="7.5" textLength="53.53" lengthAdjust="spacing">90105–10212</text>
<text transform="translate(405.30 416.00) scale(0.8 1)" x="0" y="0" font-size="9.0" textLength="36.62" lengthAdjust="spacing">13522P</text>
<text transform="translate(375.30 449.30) scale(0.85 1)" x="0" y="0" font-size="7.5" textLength="53.29" lengthAdjust="spacing">90179–08071</text>
<text transform="translate(434.30 472.10) scale(0.8 1)" x="0" y="0" font-size="9.0" textLength="35.62" lengthAdjust="spacing">130295</text></g>
</svg>
</body></html>
